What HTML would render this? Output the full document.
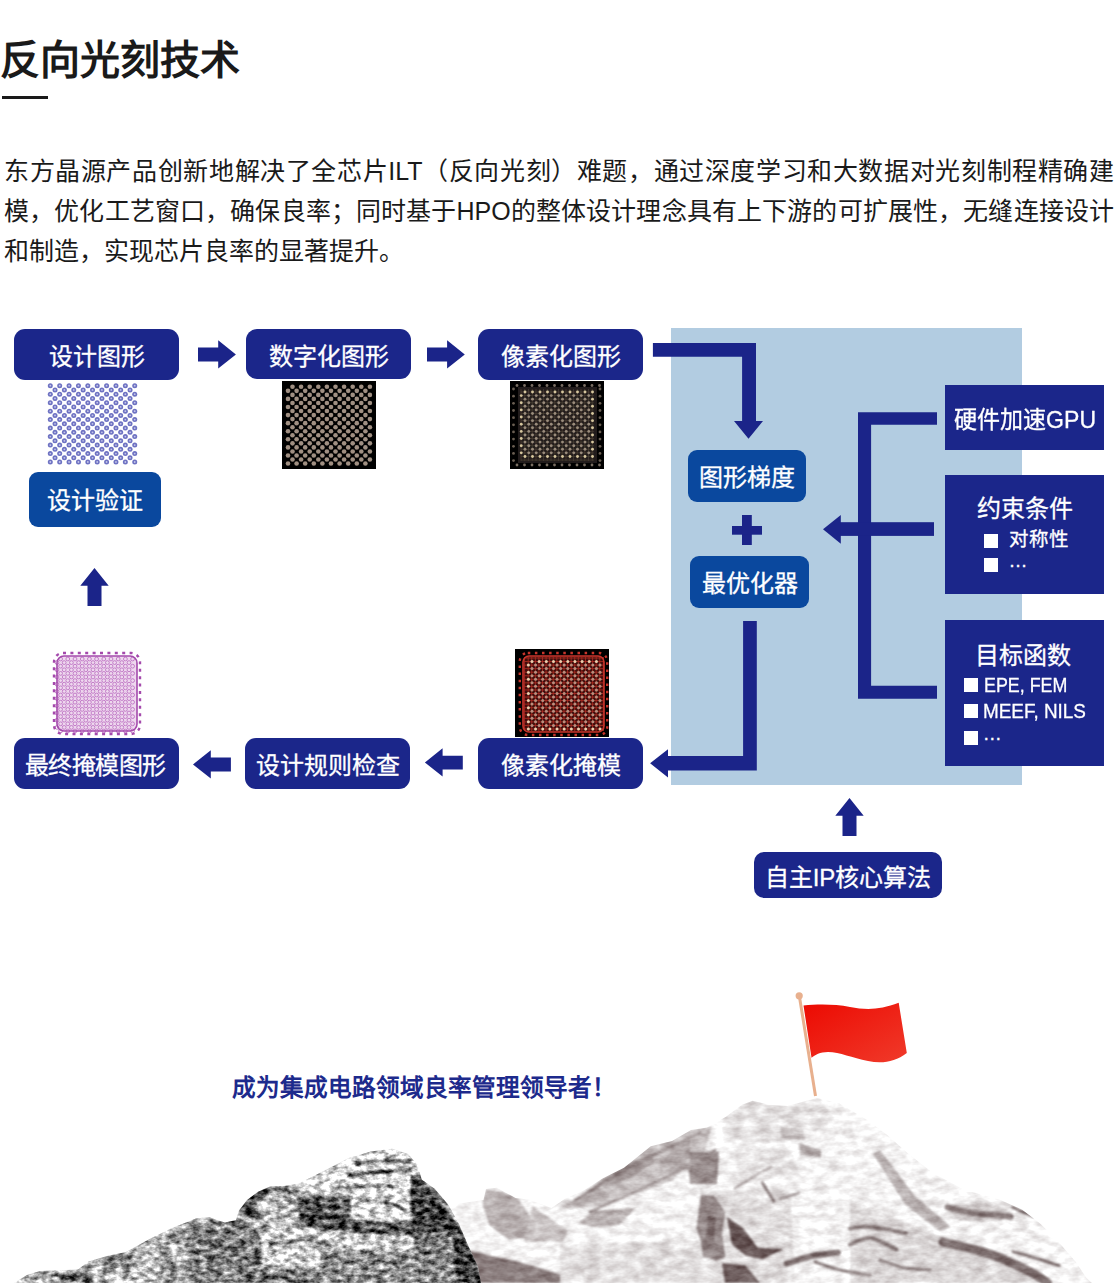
<!DOCTYPE html>
<html lang="zh-CN"><head><meta charset="utf-8">
<style>
html,body{margin:0;padding:0;background:#fff;}
body{width:1118px;height:1283px;position:relative;overflow:hidden;font-family:"Liberation Sans",sans-serif;}
.a{position:absolute;}
#title{left:0;top:29.5px;font-size:40px;font-weight:700;color:#1a1a1a;line-height:60px;white-space:nowrap;}
#uline{left:2px;top:96px;width:46px;height:3px;background:#1a1a1a;}
#para{left:4px;top:151px;width:1110px;font-size:25px;line-height:40px;color:#1a1a1a;text-align:justify;}
.box{position:absolute;color:#fff;display:flex;align-items:center;justify-content:center;font-size:24px;white-space:nowrap;-webkit-text-stroke:0.3px #fff;}
.dk{background:#1b268a;border-radius:11px;}
.md{background:#0a489e;border-radius:9px;padding-bottom:2px;box-sizing:border-box;}
.sq{background:#1b268a;}
.wt{color:#fff;white-space:nowrap;-webkit-text-stroke:0.3px #fff;}
.bl{width:14.3px;height:14px;background:#fff;}
.lat{transform-origin:0 0;}
#panel{left:671px;top:328px;width:351px;height:457px;background:#b2cce1;}
</style></head><body>
<div id="title" class="a">反向光刻技术</div>
<div id="uline" class="a"></div>
<div id="para" class="a">东方晶源产品创新地解决了全芯片ILT（反向光刻）难题，通过深度学习和大数据对光刻制程精确建模，优化工艺窗口，确保良率；同时基于HPO的整体设计理念具有上下游的可扩展性，无缝连接设计和制造，实现芯片良率的显著提升。</div>

<div id="panel" class="a"></div>

<svg class="a" style="left:0;top:0" width="1118" height="920" viewBox="0 0 1118 920">
<g fill="#1b2489">
<!-- top right arrows -->
<polygon points="198,347.4 218.2,347.4 218.2,340.2 235.9,354.4 218.2,368.6 218.2,361.4 198,361.4"/>
<polygon points="427,347.4 447.1,347.4 447.1,340.2 464.8,354.4 447.1,368.6 447.1,361.4 427,361.4"/>
<!-- bottom left arrows -->
<polygon points="230.9,757.4 210.8,757.4 210.8,750.2 193,764.4 210.8,778.6 210.8,771.4 230.9,771.4"/>
<polygon points="462.8,755.7 442.6,755.7 442.6,748.2 424.9,762.6 442.6,776.6 442.6,769.4 462.8,769.4"/>
<!-- up arrows -->
<polygon points="87.5,605.9 87.5,585.8 80.3,585.8 94.5,567.9 108.7,585.8 101.5,585.8 101.5,605.9"/>
<polygon points="842.5,835.9 842.5,815.8 835.3,815.8 849.5,797.9 863.7,815.8 856.5,815.8 856.5,835.9"/>
<!-- connector top -->
<polygon points="652.9,343 756,343 756,421 763,421 748.5,438.7 734,421 742.1,421 742.1,356.7 652.9,356.7"/>
<!-- connector bottom -->
<polygon points="743.1,620.9 756.8,620.9 756.8,770.6 668,770.6 668,777.6 650.1,763.3 668,749.3 668,755.9 743.1,755.9"/>
<!-- plus -->
<rect x="742" y="515" width="9.8" height="30"/>
<rect x="732" y="526" width="30" height="8.7"/>
<!-- bracket -->
<polygon points="858,412.3 937,412.3 937,424.7 871.1,424.7 871.1,685.8 937,685.8 937,698.7 858,698.7"/>
<rect x="840" y="522.2" width="94" height="13.7"/>
<polygon points="823,529.3 840.8,515 840.8,543.7"/>
</g>
</svg>
<!--IMAGES-->
<svg class="a" style="left:0;top:0" width="1118" height="920" viewBox="0 0 1118 920">
<defs><filter id="bl5" x="-10%" y="-10%" width="120%" height="120%"><feGaussianBlur stdDeviation="0.45"/></filter><filter id="bl7" x="-10%" y="-10%" width="120%" height="120%"><feGaussianBlur stdDeviation="0.6"/></filter></defs>
<g filter="url(#bl5)">
<circle cx="50.3" cy="385.7" r="2.5" fill="#6e72c2"/><circle cx="50.3" cy="385.7" r="0.9" fill="#c4c6ea"/>
<circle cx="59.68" cy="385.7" r="2.5" fill="#6e72c2"/><circle cx="59.68" cy="385.7" r="0.9" fill="#c4c6ea"/>
<circle cx="69.06" cy="385.7" r="2.5" fill="#6e72c2"/><circle cx="69.06" cy="385.7" r="0.9" fill="#c4c6ea"/>
<circle cx="78.44" cy="385.7" r="2.5" fill="#6e72c2"/><circle cx="78.44" cy="385.7" r="0.9" fill="#c4c6ea"/>
<circle cx="87.82" cy="385.7" r="2.5" fill="#6e72c2"/><circle cx="87.82" cy="385.7" r="0.9" fill="#c4c6ea"/>
<circle cx="97.2" cy="385.7" r="2.5" fill="#6e72c2"/><circle cx="97.2" cy="385.7" r="0.9" fill="#c4c6ea"/>
<circle cx="106.58" cy="385.7" r="2.5" fill="#6e72c2"/><circle cx="106.58" cy="385.7" r="0.9" fill="#c4c6ea"/>
<circle cx="115.96" cy="385.7" r="2.5" fill="#6e72c2"/><circle cx="115.96" cy="385.7" r="0.9" fill="#c4c6ea"/>
<circle cx="125.34" cy="385.7" r="2.5" fill="#6e72c2"/><circle cx="125.34" cy="385.7" r="0.9" fill="#c4c6ea"/>
<circle cx="134.72" cy="385.7" r="2.5" fill="#6e72c2"/><circle cx="134.72" cy="385.7" r="0.9" fill="#c4c6ea"/>
<circle cx="55" cy="389.94" r="2.5" fill="#6e72c2"/><circle cx="55" cy="389.94" r="0.9" fill="#c4c6ea"/>
<circle cx="64.38" cy="389.94" r="2.5" fill="#6e72c2"/><circle cx="64.38" cy="389.94" r="0.9" fill="#c4c6ea"/>
<circle cx="73.76" cy="389.94" r="2.5" fill="#6e72c2"/><circle cx="73.76" cy="389.94" r="0.9" fill="#c4c6ea"/>
<circle cx="83.14" cy="389.94" r="2.5" fill="#6e72c2"/><circle cx="83.14" cy="389.94" r="0.9" fill="#c4c6ea"/>
<circle cx="92.52" cy="389.94" r="2.5" fill="#6e72c2"/><circle cx="92.52" cy="389.94" r="0.9" fill="#c4c6ea"/>
<circle cx="101.9" cy="389.94" r="2.5" fill="#6e72c2"/><circle cx="101.9" cy="389.94" r="0.9" fill="#c4c6ea"/>
<circle cx="111.28" cy="389.94" r="2.5" fill="#6e72c2"/><circle cx="111.28" cy="389.94" r="0.9" fill="#c4c6ea"/>
<circle cx="120.66" cy="389.94" r="2.5" fill="#6e72c2"/><circle cx="120.66" cy="389.94" r="0.9" fill="#c4c6ea"/>
<circle cx="130.04" cy="389.94" r="2.5" fill="#6e72c2"/><circle cx="130.04" cy="389.94" r="0.9" fill="#c4c6ea"/>
<circle cx="50.3" cy="394.18" r="2.5" fill="#6e72c2"/><circle cx="50.3" cy="394.18" r="0.9" fill="#c4c6ea"/>
<circle cx="59.68" cy="394.18" r="2.5" fill="#6e72c2"/><circle cx="59.68" cy="394.18" r="0.9" fill="#c4c6ea"/>
<circle cx="69.06" cy="394.18" r="2.5" fill="#6e72c2"/><circle cx="69.06" cy="394.18" r="0.9" fill="#c4c6ea"/>
<circle cx="78.44" cy="394.18" r="2.5" fill="#6e72c2"/><circle cx="78.44" cy="394.18" r="0.9" fill="#c4c6ea"/>
<circle cx="87.82" cy="394.18" r="2.5" fill="#6e72c2"/><circle cx="87.82" cy="394.18" r="0.9" fill="#c4c6ea"/>
<circle cx="97.2" cy="394.18" r="2.5" fill="#6e72c2"/><circle cx="97.2" cy="394.18" r="0.9" fill="#c4c6ea"/>
<circle cx="106.58" cy="394.18" r="2.5" fill="#6e72c2"/><circle cx="106.58" cy="394.18" r="0.9" fill="#c4c6ea"/>
<circle cx="115.96" cy="394.18" r="2.5" fill="#6e72c2"/><circle cx="115.96" cy="394.18" r="0.9" fill="#c4c6ea"/>
<circle cx="125.34" cy="394.18" r="2.5" fill="#6e72c2"/><circle cx="125.34" cy="394.18" r="0.9" fill="#c4c6ea"/>
<circle cx="134.72" cy="394.18" r="2.5" fill="#6e72c2"/><circle cx="134.72" cy="394.18" r="0.9" fill="#c4c6ea"/>
<circle cx="55" cy="398.42" r="2.5" fill="#6e72c2"/><circle cx="55" cy="398.42" r="0.9" fill="#c4c6ea"/>
<circle cx="64.38" cy="398.42" r="2.5" fill="#6e72c2"/><circle cx="64.38" cy="398.42" r="0.9" fill="#c4c6ea"/>
<circle cx="73.76" cy="398.42" r="2.5" fill="#6e72c2"/><circle cx="73.76" cy="398.42" r="0.9" fill="#c4c6ea"/>
<circle cx="83.14" cy="398.42" r="2.5" fill="#6e72c2"/><circle cx="83.14" cy="398.42" r="0.9" fill="#c4c6ea"/>
<circle cx="92.52" cy="398.42" r="2.5" fill="#6e72c2"/><circle cx="92.52" cy="398.42" r="0.9" fill="#c4c6ea"/>
<circle cx="101.9" cy="398.42" r="2.5" fill="#6e72c2"/><circle cx="101.9" cy="398.42" r="0.9" fill="#c4c6ea"/>
<circle cx="111.28" cy="398.42" r="2.5" fill="#6e72c2"/><circle cx="111.28" cy="398.42" r="0.9" fill="#c4c6ea"/>
<circle cx="120.66" cy="398.42" r="2.5" fill="#6e72c2"/><circle cx="120.66" cy="398.42" r="0.9" fill="#c4c6ea"/>
<circle cx="130.04" cy="398.42" r="2.5" fill="#6e72c2"/><circle cx="130.04" cy="398.42" r="0.9" fill="#c4c6ea"/>
<circle cx="50.3" cy="402.66" r="2.5" fill="#6e72c2"/><circle cx="50.3" cy="402.66" r="0.9" fill="#c4c6ea"/>
<circle cx="59.68" cy="402.66" r="2.5" fill="#6e72c2"/><circle cx="59.68" cy="402.66" r="0.9" fill="#c4c6ea"/>
<circle cx="69.06" cy="402.66" r="2.5" fill="#6e72c2"/><circle cx="69.06" cy="402.66" r="0.9" fill="#c4c6ea"/>
<circle cx="78.44" cy="402.66" r="2.5" fill="#6e72c2"/><circle cx="78.44" cy="402.66" r="0.9" fill="#c4c6ea"/>
<circle cx="87.82" cy="402.66" r="2.5" fill="#6e72c2"/><circle cx="87.82" cy="402.66" r="0.9" fill="#c4c6ea"/>
<circle cx="97.2" cy="402.66" r="2.5" fill="#6e72c2"/><circle cx="97.2" cy="402.66" r="0.9" fill="#c4c6ea"/>
<circle cx="106.58" cy="402.66" r="2.5" fill="#6e72c2"/><circle cx="106.58" cy="402.66" r="0.9" fill="#c4c6ea"/>
<circle cx="115.96" cy="402.66" r="2.5" fill="#6e72c2"/><circle cx="115.96" cy="402.66" r="0.9" fill="#c4c6ea"/>
<circle cx="125.34" cy="402.66" r="2.5" fill="#6e72c2"/><circle cx="125.34" cy="402.66" r="0.9" fill="#c4c6ea"/>
<circle cx="134.72" cy="402.66" r="2.5" fill="#6e72c2"/><circle cx="134.72" cy="402.66" r="0.9" fill="#c4c6ea"/>
<circle cx="55" cy="406.9" r="2.5" fill="#6e72c2"/><circle cx="55" cy="406.9" r="0.9" fill="#c4c6ea"/>
<circle cx="64.38" cy="406.9" r="2.5" fill="#6e72c2"/><circle cx="64.38" cy="406.9" r="0.9" fill="#c4c6ea"/>
<circle cx="73.76" cy="406.9" r="2.5" fill="#6e72c2"/><circle cx="73.76" cy="406.9" r="0.9" fill="#c4c6ea"/>
<circle cx="83.14" cy="406.9" r="2.5" fill="#6e72c2"/><circle cx="83.14" cy="406.9" r="0.9" fill="#c4c6ea"/>
<circle cx="92.52" cy="406.9" r="2.5" fill="#6e72c2"/><circle cx="92.52" cy="406.9" r="0.9" fill="#c4c6ea"/>
<circle cx="101.9" cy="406.9" r="2.5" fill="#6e72c2"/><circle cx="101.9" cy="406.9" r="0.9" fill="#c4c6ea"/>
<circle cx="111.28" cy="406.9" r="2.5" fill="#6e72c2"/><circle cx="111.28" cy="406.9" r="0.9" fill="#c4c6ea"/>
<circle cx="120.66" cy="406.9" r="2.5" fill="#6e72c2"/><circle cx="120.66" cy="406.9" r="0.9" fill="#c4c6ea"/>
<circle cx="130.04" cy="406.9" r="2.5" fill="#6e72c2"/><circle cx="130.04" cy="406.9" r="0.9" fill="#c4c6ea"/>
<circle cx="50.3" cy="411.14" r="2.5" fill="#6e72c2"/><circle cx="50.3" cy="411.14" r="0.9" fill="#c4c6ea"/>
<circle cx="59.68" cy="411.14" r="2.5" fill="#6e72c2"/><circle cx="59.68" cy="411.14" r="0.9" fill="#c4c6ea"/>
<circle cx="69.06" cy="411.14" r="2.5" fill="#6e72c2"/><circle cx="69.06" cy="411.14" r="0.9" fill="#c4c6ea"/>
<circle cx="78.44" cy="411.14" r="2.5" fill="#6e72c2"/><circle cx="78.44" cy="411.14" r="0.9" fill="#c4c6ea"/>
<circle cx="87.82" cy="411.14" r="2.5" fill="#6e72c2"/><circle cx="87.82" cy="411.14" r="0.9" fill="#c4c6ea"/>
<circle cx="97.2" cy="411.14" r="2.5" fill="#6e72c2"/><circle cx="97.2" cy="411.14" r="0.9" fill="#c4c6ea"/>
<circle cx="106.58" cy="411.14" r="2.5" fill="#6e72c2"/><circle cx="106.58" cy="411.14" r="0.9" fill="#c4c6ea"/>
<circle cx="115.96" cy="411.14" r="2.5" fill="#6e72c2"/><circle cx="115.96" cy="411.14" r="0.9" fill="#c4c6ea"/>
<circle cx="125.34" cy="411.14" r="2.5" fill="#6e72c2"/><circle cx="125.34" cy="411.14" r="0.9" fill="#c4c6ea"/>
<circle cx="134.72" cy="411.14" r="2.5" fill="#6e72c2"/><circle cx="134.72" cy="411.14" r="0.9" fill="#c4c6ea"/>
<circle cx="55" cy="415.38" r="2.5" fill="#6e72c2"/><circle cx="55" cy="415.38" r="0.9" fill="#c4c6ea"/>
<circle cx="64.38" cy="415.38" r="2.5" fill="#6e72c2"/><circle cx="64.38" cy="415.38" r="0.9" fill="#c4c6ea"/>
<circle cx="73.76" cy="415.38" r="2.5" fill="#6e72c2"/><circle cx="73.76" cy="415.38" r="0.9" fill="#c4c6ea"/>
<circle cx="83.14" cy="415.38" r="2.5" fill="#6e72c2"/><circle cx="83.14" cy="415.38" r="0.9" fill="#c4c6ea"/>
<circle cx="92.52" cy="415.38" r="2.5" fill="#6e72c2"/><circle cx="92.52" cy="415.38" r="0.9" fill="#c4c6ea"/>
<circle cx="101.9" cy="415.38" r="2.5" fill="#6e72c2"/><circle cx="101.9" cy="415.38" r="0.9" fill="#c4c6ea"/>
<circle cx="111.28" cy="415.38" r="2.5" fill="#6e72c2"/><circle cx="111.28" cy="415.38" r="0.9" fill="#c4c6ea"/>
<circle cx="120.66" cy="415.38" r="2.5" fill="#6e72c2"/><circle cx="120.66" cy="415.38" r="0.9" fill="#c4c6ea"/>
<circle cx="130.04" cy="415.38" r="2.5" fill="#6e72c2"/><circle cx="130.04" cy="415.38" r="0.9" fill="#c4c6ea"/>
<circle cx="50.3" cy="419.62" r="2.5" fill="#6e72c2"/><circle cx="50.3" cy="419.62" r="0.9" fill="#c4c6ea"/>
<circle cx="59.68" cy="419.62" r="2.5" fill="#6e72c2"/><circle cx="59.68" cy="419.62" r="0.9" fill="#c4c6ea"/>
<circle cx="69.06" cy="419.62" r="2.5" fill="#6e72c2"/><circle cx="69.06" cy="419.62" r="0.9" fill="#c4c6ea"/>
<circle cx="78.44" cy="419.62" r="2.5" fill="#6e72c2"/><circle cx="78.44" cy="419.62" r="0.9" fill="#c4c6ea"/>
<circle cx="87.82" cy="419.62" r="2.5" fill="#6e72c2"/><circle cx="87.82" cy="419.62" r="0.9" fill="#c4c6ea"/>
<circle cx="97.2" cy="419.62" r="2.5" fill="#6e72c2"/><circle cx="97.2" cy="419.62" r="0.9" fill="#c4c6ea"/>
<circle cx="106.58" cy="419.62" r="2.5" fill="#6e72c2"/><circle cx="106.58" cy="419.62" r="0.9" fill="#c4c6ea"/>
<circle cx="115.96" cy="419.62" r="2.5" fill="#6e72c2"/><circle cx="115.96" cy="419.62" r="0.9" fill="#c4c6ea"/>
<circle cx="125.34" cy="419.62" r="2.5" fill="#6e72c2"/><circle cx="125.34" cy="419.62" r="0.9" fill="#c4c6ea"/>
<circle cx="134.72" cy="419.62" r="2.5" fill="#6e72c2"/><circle cx="134.72" cy="419.62" r="0.9" fill="#c4c6ea"/>
<circle cx="55" cy="423.86" r="2.5" fill="#6e72c2"/><circle cx="55" cy="423.86" r="0.9" fill="#c4c6ea"/>
<circle cx="64.38" cy="423.86" r="2.5" fill="#6e72c2"/><circle cx="64.38" cy="423.86" r="0.9" fill="#c4c6ea"/>
<circle cx="73.76" cy="423.86" r="2.5" fill="#6e72c2"/><circle cx="73.76" cy="423.86" r="0.9" fill="#c4c6ea"/>
<circle cx="83.14" cy="423.86" r="2.5" fill="#6e72c2"/><circle cx="83.14" cy="423.86" r="0.9" fill="#c4c6ea"/>
<circle cx="92.52" cy="423.86" r="2.5" fill="#6e72c2"/><circle cx="92.52" cy="423.86" r="0.9" fill="#c4c6ea"/>
<circle cx="101.9" cy="423.86" r="2.5" fill="#6e72c2"/><circle cx="101.9" cy="423.86" r="0.9" fill="#c4c6ea"/>
<circle cx="111.28" cy="423.86" r="2.5" fill="#6e72c2"/><circle cx="111.28" cy="423.86" r="0.9" fill="#c4c6ea"/>
<circle cx="120.66" cy="423.86" r="2.5" fill="#6e72c2"/><circle cx="120.66" cy="423.86" r="0.9" fill="#c4c6ea"/>
<circle cx="130.04" cy="423.86" r="2.5" fill="#6e72c2"/><circle cx="130.04" cy="423.86" r="0.9" fill="#c4c6ea"/>
<circle cx="50.3" cy="428.1" r="2.5" fill="#6e72c2"/><circle cx="50.3" cy="428.1" r="0.9" fill="#c4c6ea"/>
<circle cx="59.68" cy="428.1" r="2.5" fill="#6e72c2"/><circle cx="59.68" cy="428.1" r="0.9" fill="#c4c6ea"/>
<circle cx="69.06" cy="428.1" r="2.5" fill="#6e72c2"/><circle cx="69.06" cy="428.1" r="0.9" fill="#c4c6ea"/>
<circle cx="78.44" cy="428.1" r="2.5" fill="#6e72c2"/><circle cx="78.44" cy="428.1" r="0.9" fill="#c4c6ea"/>
<circle cx="87.82" cy="428.1" r="2.5" fill="#6e72c2"/><circle cx="87.82" cy="428.1" r="0.9" fill="#c4c6ea"/>
<circle cx="97.2" cy="428.1" r="2.5" fill="#6e72c2"/><circle cx="97.2" cy="428.1" r="0.9" fill="#c4c6ea"/>
<circle cx="106.58" cy="428.1" r="2.5" fill="#6e72c2"/><circle cx="106.58" cy="428.1" r="0.9" fill="#c4c6ea"/>
<circle cx="115.96" cy="428.1" r="2.5" fill="#6e72c2"/><circle cx="115.96" cy="428.1" r="0.9" fill="#c4c6ea"/>
<circle cx="125.34" cy="428.1" r="2.5" fill="#6e72c2"/><circle cx="125.34" cy="428.1" r="0.9" fill="#c4c6ea"/>
<circle cx="134.72" cy="428.1" r="2.5" fill="#6e72c2"/><circle cx="134.72" cy="428.1" r="0.9" fill="#c4c6ea"/>
<circle cx="55" cy="432.34" r="2.5" fill="#6e72c2"/><circle cx="55" cy="432.34" r="0.9" fill="#c4c6ea"/>
<circle cx="64.38" cy="432.34" r="2.5" fill="#6e72c2"/><circle cx="64.38" cy="432.34" r="0.9" fill="#c4c6ea"/>
<circle cx="73.76" cy="432.34" r="2.5" fill="#6e72c2"/><circle cx="73.76" cy="432.34" r="0.9" fill="#c4c6ea"/>
<circle cx="83.14" cy="432.34" r="2.5" fill="#6e72c2"/><circle cx="83.14" cy="432.34" r="0.9" fill="#c4c6ea"/>
<circle cx="92.52" cy="432.34" r="2.5" fill="#6e72c2"/><circle cx="92.52" cy="432.34" r="0.9" fill="#c4c6ea"/>
<circle cx="101.9" cy="432.34" r="2.5" fill="#6e72c2"/><circle cx="101.9" cy="432.34" r="0.9" fill="#c4c6ea"/>
<circle cx="111.28" cy="432.34" r="2.5" fill="#6e72c2"/><circle cx="111.28" cy="432.34" r="0.9" fill="#c4c6ea"/>
<circle cx="120.66" cy="432.34" r="2.5" fill="#6e72c2"/><circle cx="120.66" cy="432.34" r="0.9" fill="#c4c6ea"/>
<circle cx="130.04" cy="432.34" r="2.5" fill="#6e72c2"/><circle cx="130.04" cy="432.34" r="0.9" fill="#c4c6ea"/>
<circle cx="50.3" cy="436.58" r="2.5" fill="#6e72c2"/><circle cx="50.3" cy="436.58" r="0.9" fill="#c4c6ea"/>
<circle cx="59.68" cy="436.58" r="2.5" fill="#6e72c2"/><circle cx="59.68" cy="436.58" r="0.9" fill="#c4c6ea"/>
<circle cx="69.06" cy="436.58" r="2.5" fill="#6e72c2"/><circle cx="69.06" cy="436.58" r="0.9" fill="#c4c6ea"/>
<circle cx="78.44" cy="436.58" r="2.5" fill="#6e72c2"/><circle cx="78.44" cy="436.58" r="0.9" fill="#c4c6ea"/>
<circle cx="87.82" cy="436.58" r="2.5" fill="#6e72c2"/><circle cx="87.82" cy="436.58" r="0.9" fill="#c4c6ea"/>
<circle cx="97.2" cy="436.58" r="2.5" fill="#6e72c2"/><circle cx="97.2" cy="436.58" r="0.9" fill="#c4c6ea"/>
<circle cx="106.58" cy="436.58" r="2.5" fill="#6e72c2"/><circle cx="106.58" cy="436.58" r="0.9" fill="#c4c6ea"/>
<circle cx="115.96" cy="436.58" r="2.5" fill="#6e72c2"/><circle cx="115.96" cy="436.58" r="0.9" fill="#c4c6ea"/>
<circle cx="125.34" cy="436.58" r="2.5" fill="#6e72c2"/><circle cx="125.34" cy="436.58" r="0.9" fill="#c4c6ea"/>
<circle cx="134.72" cy="436.58" r="2.5" fill="#6e72c2"/><circle cx="134.72" cy="436.58" r="0.9" fill="#c4c6ea"/>
<circle cx="55" cy="440.82" r="2.5" fill="#6e72c2"/><circle cx="55" cy="440.82" r="0.9" fill="#c4c6ea"/>
<circle cx="64.38" cy="440.82" r="2.5" fill="#6e72c2"/><circle cx="64.38" cy="440.82" r="0.9" fill="#c4c6ea"/>
<circle cx="73.76" cy="440.82" r="2.5" fill="#6e72c2"/><circle cx="73.76" cy="440.82" r="0.9" fill="#c4c6ea"/>
<circle cx="83.14" cy="440.82" r="2.5" fill="#6e72c2"/><circle cx="83.14" cy="440.82" r="0.9" fill="#c4c6ea"/>
<circle cx="92.52" cy="440.82" r="2.5" fill="#6e72c2"/><circle cx="92.52" cy="440.82" r="0.9" fill="#c4c6ea"/>
<circle cx="101.9" cy="440.82" r="2.5" fill="#6e72c2"/><circle cx="101.9" cy="440.82" r="0.9" fill="#c4c6ea"/>
<circle cx="111.28" cy="440.82" r="2.5" fill="#6e72c2"/><circle cx="111.28" cy="440.82" r="0.9" fill="#c4c6ea"/>
<circle cx="120.66" cy="440.82" r="2.5" fill="#6e72c2"/><circle cx="120.66" cy="440.82" r="0.9" fill="#c4c6ea"/>
<circle cx="130.04" cy="440.82" r="2.5" fill="#6e72c2"/><circle cx="130.04" cy="440.82" r="0.9" fill="#c4c6ea"/>
<circle cx="50.3" cy="445.06" r="2.5" fill="#6e72c2"/><circle cx="50.3" cy="445.06" r="0.9" fill="#c4c6ea"/>
<circle cx="59.68" cy="445.06" r="2.5" fill="#6e72c2"/><circle cx="59.68" cy="445.06" r="0.9" fill="#c4c6ea"/>
<circle cx="69.06" cy="445.06" r="2.5" fill="#6e72c2"/><circle cx="69.06" cy="445.06" r="0.9" fill="#c4c6ea"/>
<circle cx="78.44" cy="445.06" r="2.5" fill="#6e72c2"/><circle cx="78.44" cy="445.06" r="0.9" fill="#c4c6ea"/>
<circle cx="87.82" cy="445.06" r="2.5" fill="#6e72c2"/><circle cx="87.82" cy="445.06" r="0.9" fill="#c4c6ea"/>
<circle cx="97.2" cy="445.06" r="2.5" fill="#6e72c2"/><circle cx="97.2" cy="445.06" r="0.9" fill="#c4c6ea"/>
<circle cx="106.58" cy="445.06" r="2.5" fill="#6e72c2"/><circle cx="106.58" cy="445.06" r="0.9" fill="#c4c6ea"/>
<circle cx="115.96" cy="445.06" r="2.5" fill="#6e72c2"/><circle cx="115.96" cy="445.06" r="0.9" fill="#c4c6ea"/>
<circle cx="125.34" cy="445.06" r="2.5" fill="#6e72c2"/><circle cx="125.34" cy="445.06" r="0.9" fill="#c4c6ea"/>
<circle cx="134.72" cy="445.06" r="2.5" fill="#6e72c2"/><circle cx="134.72" cy="445.06" r="0.9" fill="#c4c6ea"/>
<circle cx="55" cy="449.3" r="2.5" fill="#6e72c2"/><circle cx="55" cy="449.3" r="0.9" fill="#c4c6ea"/>
<circle cx="64.38" cy="449.3" r="2.5" fill="#6e72c2"/><circle cx="64.38" cy="449.3" r="0.9" fill="#c4c6ea"/>
<circle cx="73.76" cy="449.3" r="2.5" fill="#6e72c2"/><circle cx="73.76" cy="449.3" r="0.9" fill="#c4c6ea"/>
<circle cx="83.14" cy="449.3" r="2.5" fill="#6e72c2"/><circle cx="83.14" cy="449.3" r="0.9" fill="#c4c6ea"/>
<circle cx="92.52" cy="449.3" r="2.5" fill="#6e72c2"/><circle cx="92.52" cy="449.3" r="0.9" fill="#c4c6ea"/>
<circle cx="101.9" cy="449.3" r="2.5" fill="#6e72c2"/><circle cx="101.9" cy="449.3" r="0.9" fill="#c4c6ea"/>
<circle cx="111.28" cy="449.3" r="2.5" fill="#6e72c2"/><circle cx="111.28" cy="449.3" r="0.9" fill="#c4c6ea"/>
<circle cx="120.66" cy="449.3" r="2.5" fill="#6e72c2"/><circle cx="120.66" cy="449.3" r="0.9" fill="#c4c6ea"/>
<circle cx="130.04" cy="449.3" r="2.5" fill="#6e72c2"/><circle cx="130.04" cy="449.3" r="0.9" fill="#c4c6ea"/>
<circle cx="50.3" cy="453.54" r="2.5" fill="#6e72c2"/><circle cx="50.3" cy="453.54" r="0.9" fill="#c4c6ea"/>
<circle cx="59.68" cy="453.54" r="2.5" fill="#6e72c2"/><circle cx="59.68" cy="453.54" r="0.9" fill="#c4c6ea"/>
<circle cx="69.06" cy="453.54" r="2.5" fill="#6e72c2"/><circle cx="69.06" cy="453.54" r="0.9" fill="#c4c6ea"/>
<circle cx="78.44" cy="453.54" r="2.5" fill="#6e72c2"/><circle cx="78.44" cy="453.54" r="0.9" fill="#c4c6ea"/>
<circle cx="87.82" cy="453.54" r="2.5" fill="#6e72c2"/><circle cx="87.82" cy="453.54" r="0.9" fill="#c4c6ea"/>
<circle cx="97.2" cy="453.54" r="2.5" fill="#6e72c2"/><circle cx="97.2" cy="453.54" r="0.9" fill="#c4c6ea"/>
<circle cx="106.58" cy="453.54" r="2.5" fill="#6e72c2"/><circle cx="106.58" cy="453.54" r="0.9" fill="#c4c6ea"/>
<circle cx="115.96" cy="453.54" r="2.5" fill="#6e72c2"/><circle cx="115.96" cy="453.54" r="0.9" fill="#c4c6ea"/>
<circle cx="125.34" cy="453.54" r="2.5" fill="#6e72c2"/><circle cx="125.34" cy="453.54" r="0.9" fill="#c4c6ea"/>
<circle cx="134.72" cy="453.54" r="2.5" fill="#6e72c2"/><circle cx="134.72" cy="453.54" r="0.9" fill="#c4c6ea"/>
<circle cx="55" cy="457.78" r="2.5" fill="#6e72c2"/><circle cx="55" cy="457.78" r="0.9" fill="#c4c6ea"/>
<circle cx="64.38" cy="457.78" r="2.5" fill="#6e72c2"/><circle cx="64.38" cy="457.78" r="0.9" fill="#c4c6ea"/>
<circle cx="73.76" cy="457.78" r="2.5" fill="#6e72c2"/><circle cx="73.76" cy="457.78" r="0.9" fill="#c4c6ea"/>
<circle cx="83.14" cy="457.78" r="2.5" fill="#6e72c2"/><circle cx="83.14" cy="457.78" r="0.9" fill="#c4c6ea"/>
<circle cx="92.52" cy="457.78" r="2.5" fill="#6e72c2"/><circle cx="92.52" cy="457.78" r="0.9" fill="#c4c6ea"/>
<circle cx="101.9" cy="457.78" r="2.5" fill="#6e72c2"/><circle cx="101.9" cy="457.78" r="0.9" fill="#c4c6ea"/>
<circle cx="111.28" cy="457.78" r="2.5" fill="#6e72c2"/><circle cx="111.28" cy="457.78" r="0.9" fill="#c4c6ea"/>
<circle cx="120.66" cy="457.78" r="2.5" fill="#6e72c2"/><circle cx="120.66" cy="457.78" r="0.9" fill="#c4c6ea"/>
<circle cx="130.04" cy="457.78" r="2.5" fill="#6e72c2"/><circle cx="130.04" cy="457.78" r="0.9" fill="#c4c6ea"/>
<circle cx="50.3" cy="462.02" r="2.5" fill="#6e72c2"/><circle cx="50.3" cy="462.02" r="0.9" fill="#c4c6ea"/>
<circle cx="59.68" cy="462.02" r="2.5" fill="#6e72c2"/><circle cx="59.68" cy="462.02" r="0.9" fill="#c4c6ea"/>
<circle cx="69.06" cy="462.02" r="2.5" fill="#6e72c2"/><circle cx="69.06" cy="462.02" r="0.9" fill="#c4c6ea"/>
<circle cx="78.44" cy="462.02" r="2.5" fill="#6e72c2"/><circle cx="78.44" cy="462.02" r="0.9" fill="#c4c6ea"/>
<circle cx="87.82" cy="462.02" r="2.5" fill="#6e72c2"/><circle cx="87.82" cy="462.02" r="0.9" fill="#c4c6ea"/>
<circle cx="97.2" cy="462.02" r="2.5" fill="#6e72c2"/><circle cx="97.2" cy="462.02" r="0.9" fill="#c4c6ea"/>
<circle cx="106.58" cy="462.02" r="2.5" fill="#6e72c2"/><circle cx="106.58" cy="462.02" r="0.9" fill="#c4c6ea"/>
<circle cx="115.96" cy="462.02" r="2.5" fill="#6e72c2"/><circle cx="115.96" cy="462.02" r="0.9" fill="#c4c6ea"/>
<circle cx="125.34" cy="462.02" r="2.5" fill="#6e72c2"/><circle cx="125.34" cy="462.02" r="0.9" fill="#c4c6ea"/>
<circle cx="134.72" cy="462.02" r="2.5" fill="#6e72c2"/><circle cx="134.72" cy="462.02" r="0.9" fill="#c4c6ea"/>
</g>
<rect x="282" y="381" width="94" height="88" fill="#000"/><g filter="url(#bl7)">
<circle cx="292.5" cy="386.8" r="2.3" fill="#a08f82"/>
<circle cx="301.1" cy="386.8" r="2.3" fill="#a08f82"/>
<circle cx="309.7" cy="386.8" r="2.3" fill="#a08f82"/>
<circle cx="318.3" cy="386.8" r="2.3" fill="#a08f82"/>
<circle cx="326.9" cy="386.8" r="2.3" fill="#a08f82"/>
<circle cx="335.5" cy="386.8" r="2.3" fill="#a08f82"/>
<circle cx="344.1" cy="386.8" r="2.3" fill="#a08f82"/>
<circle cx="352.7" cy="386.8" r="2.3" fill="#a08f82"/>
<circle cx="361.3" cy="386.8" r="2.3" fill="#a08f82"/>
<circle cx="369.9" cy="386.8" r="2.3" fill="#a08f82"/>
<circle cx="288" cy="390.84" r="2.3" fill="#a08f82"/>
<circle cx="296.6" cy="390.84" r="2.3" fill="#a08f82"/>
<circle cx="305.2" cy="390.84" r="2.3" fill="#a08f82"/>
<circle cx="313.8" cy="390.84" r="2.3" fill="#a08f82"/>
<circle cx="322.4" cy="390.84" r="2.3" fill="#a08f82"/>
<circle cx="331" cy="390.84" r="2.3" fill="#a08f82"/>
<circle cx="339.6" cy="390.84" r="2.3" fill="#a08f82"/>
<circle cx="348.2" cy="390.84" r="2.3" fill="#a08f82"/>
<circle cx="356.8" cy="390.84" r="2.3" fill="#a08f82"/>
<circle cx="365.4" cy="390.84" r="2.3" fill="#a08f82"/>
<circle cx="292.5" cy="394.88" r="2.3" fill="#a08f82"/>
<circle cx="301.1" cy="394.88" r="2.3" fill="#a08f82"/>
<circle cx="309.7" cy="394.88" r="2.3" fill="#a08f82"/>
<circle cx="318.3" cy="394.88" r="2.3" fill="#a08f82"/>
<circle cx="326.9" cy="394.88" r="2.3" fill="#a08f82"/>
<circle cx="335.5" cy="394.88" r="2.3" fill="#a08f82"/>
<circle cx="344.1" cy="394.88" r="2.3" fill="#a08f82"/>
<circle cx="352.7" cy="394.88" r="2.3" fill="#a08f82"/>
<circle cx="361.3" cy="394.88" r="2.3" fill="#a08f82"/>
<circle cx="369.9" cy="394.88" r="2.3" fill="#a08f82"/>
<circle cx="288" cy="398.92" r="2.3" fill="#a08f82"/>
<circle cx="296.6" cy="398.92" r="2.3" fill="#a08f82"/>
<circle cx="305.2" cy="398.92" r="2.3" fill="#a08f82"/>
<circle cx="313.8" cy="398.92" r="2.3" fill="#a08f82"/>
<circle cx="322.4" cy="398.92" r="2.3" fill="#a08f82"/>
<circle cx="331" cy="398.92" r="2.3" fill="#a08f82"/>
<circle cx="339.6" cy="398.92" r="2.3" fill="#a08f82"/>
<circle cx="348.2" cy="398.92" r="2.3" fill="#a08f82"/>
<circle cx="356.8" cy="398.92" r="2.3" fill="#a08f82"/>
<circle cx="365.4" cy="398.92" r="2.3" fill="#a08f82"/>
<circle cx="292.5" cy="402.96" r="2.3" fill="#a08f82"/>
<circle cx="301.1" cy="402.96" r="2.3" fill="#a08f82"/>
<circle cx="309.7" cy="402.96" r="2.3" fill="#a08f82"/>
<circle cx="318.3" cy="402.96" r="2.3" fill="#a08f82"/>
<circle cx="326.9" cy="402.96" r="2.3" fill="#a08f82"/>
<circle cx="335.5" cy="402.96" r="2.3" fill="#a08f82"/>
<circle cx="344.1" cy="402.96" r="2.3" fill="#a08f82"/>
<circle cx="352.7" cy="402.96" r="2.3" fill="#a08f82"/>
<circle cx="361.3" cy="402.96" r="2.3" fill="#a08f82"/>
<circle cx="369.9" cy="402.96" r="2.3" fill="#a08f82"/>
<circle cx="288" cy="407" r="2.3" fill="#a08f82"/>
<circle cx="296.6" cy="407" r="2.3" fill="#a08f82"/>
<circle cx="305.2" cy="407" r="2.3" fill="#a08f82"/>
<circle cx="313.8" cy="407" r="2.3" fill="#a08f82"/>
<circle cx="322.4" cy="407" r="2.3" fill="#a08f82"/>
<circle cx="331" cy="407" r="2.3" fill="#a08f82"/>
<circle cx="339.6" cy="407" r="2.3" fill="#a08f82"/>
<circle cx="348.2" cy="407" r="2.3" fill="#a08f82"/>
<circle cx="356.8" cy="407" r="2.3" fill="#a08f82"/>
<circle cx="365.4" cy="407" r="2.3" fill="#a08f82"/>
<circle cx="292.5" cy="411.04" r="2.3" fill="#a08f82"/>
<circle cx="301.1" cy="411.04" r="2.3" fill="#a08f82"/>
<circle cx="309.7" cy="411.04" r="2.3" fill="#a08f82"/>
<circle cx="318.3" cy="411.04" r="2.3" fill="#a08f82"/>
<circle cx="326.9" cy="411.04" r="2.3" fill="#a08f82"/>
<circle cx="335.5" cy="411.04" r="2.3" fill="#a08f82"/>
<circle cx="344.1" cy="411.04" r="2.3" fill="#a08f82"/>
<circle cx="352.7" cy="411.04" r="2.3" fill="#a08f82"/>
<circle cx="361.3" cy="411.04" r="2.3" fill="#a08f82"/>
<circle cx="369.9" cy="411.04" r="2.3" fill="#a08f82"/>
<circle cx="288" cy="415.08" r="2.3" fill="#a08f82"/>
<circle cx="296.6" cy="415.08" r="2.3" fill="#a08f82"/>
<circle cx="305.2" cy="415.08" r="2.3" fill="#a08f82"/>
<circle cx="313.8" cy="415.08" r="2.3" fill="#a08f82"/>
<circle cx="322.4" cy="415.08" r="2.3" fill="#a08f82"/>
<circle cx="331" cy="415.08" r="2.3" fill="#a08f82"/>
<circle cx="339.6" cy="415.08" r="2.3" fill="#a08f82"/>
<circle cx="348.2" cy="415.08" r="2.3" fill="#a08f82"/>
<circle cx="356.8" cy="415.08" r="2.3" fill="#a08f82"/>
<circle cx="365.4" cy="415.08" r="2.3" fill="#a08f82"/>
<circle cx="292.5" cy="419.12" r="2.3" fill="#a08f82"/>
<circle cx="301.1" cy="419.12" r="2.3" fill="#a08f82"/>
<circle cx="309.7" cy="419.12" r="2.3" fill="#a08f82"/>
<circle cx="318.3" cy="419.12" r="2.3" fill="#a08f82"/>
<circle cx="326.9" cy="419.12" r="2.3" fill="#a08f82"/>
<circle cx="335.5" cy="419.12" r="2.3" fill="#a08f82"/>
<circle cx="344.1" cy="419.12" r="2.3" fill="#a08f82"/>
<circle cx="352.7" cy="419.12" r="2.3" fill="#a08f82"/>
<circle cx="361.3" cy="419.12" r="2.3" fill="#a08f82"/>
<circle cx="369.9" cy="419.12" r="2.3" fill="#a08f82"/>
<circle cx="288" cy="423.16" r="2.3" fill="#a08f82"/>
<circle cx="296.6" cy="423.16" r="2.3" fill="#a08f82"/>
<circle cx="305.2" cy="423.16" r="2.3" fill="#a08f82"/>
<circle cx="313.8" cy="423.16" r="2.3" fill="#a08f82"/>
<circle cx="322.4" cy="423.16" r="2.3" fill="#a08f82"/>
<circle cx="331" cy="423.16" r="2.3" fill="#a08f82"/>
<circle cx="339.6" cy="423.16" r="2.3" fill="#a08f82"/>
<circle cx="348.2" cy="423.16" r="2.3" fill="#a08f82"/>
<circle cx="356.8" cy="423.16" r="2.3" fill="#a08f82"/>
<circle cx="365.4" cy="423.16" r="2.3" fill="#a08f82"/>
<circle cx="292.5" cy="427.2" r="2.3" fill="#a08f82"/>
<circle cx="301.1" cy="427.2" r="2.3" fill="#a08f82"/>
<circle cx="309.7" cy="427.2" r="2.3" fill="#a08f82"/>
<circle cx="318.3" cy="427.2" r="2.3" fill="#a08f82"/>
<circle cx="326.9" cy="427.2" r="2.3" fill="#a08f82"/>
<circle cx="335.5" cy="427.2" r="2.3" fill="#a08f82"/>
<circle cx="344.1" cy="427.2" r="2.3" fill="#a08f82"/>
<circle cx="352.7" cy="427.2" r="2.3" fill="#a08f82"/>
<circle cx="361.3" cy="427.2" r="2.3" fill="#a08f82"/>
<circle cx="369.9" cy="427.2" r="2.3" fill="#a08f82"/>
<circle cx="288" cy="431.24" r="2.3" fill="#a08f82"/>
<circle cx="296.6" cy="431.24" r="2.3" fill="#a08f82"/>
<circle cx="305.2" cy="431.24" r="2.3" fill="#a08f82"/>
<circle cx="313.8" cy="431.24" r="2.3" fill="#a08f82"/>
<circle cx="322.4" cy="431.24" r="2.3" fill="#a08f82"/>
<circle cx="331" cy="431.24" r="2.3" fill="#a08f82"/>
<circle cx="339.6" cy="431.24" r="2.3" fill="#a08f82"/>
<circle cx="348.2" cy="431.24" r="2.3" fill="#a08f82"/>
<circle cx="356.8" cy="431.24" r="2.3" fill="#a08f82"/>
<circle cx="365.4" cy="431.24" r="2.3" fill="#a08f82"/>
<circle cx="292.5" cy="435.28" r="2.3" fill="#a08f82"/>
<circle cx="301.1" cy="435.28" r="2.3" fill="#a08f82"/>
<circle cx="309.7" cy="435.28" r="2.3" fill="#a08f82"/>
<circle cx="318.3" cy="435.28" r="2.3" fill="#a08f82"/>
<circle cx="326.9" cy="435.28" r="2.3" fill="#a08f82"/>
<circle cx="335.5" cy="435.28" r="2.3" fill="#a08f82"/>
<circle cx="344.1" cy="435.28" r="2.3" fill="#a08f82"/>
<circle cx="352.7" cy="435.28" r="2.3" fill="#a08f82"/>
<circle cx="361.3" cy="435.28" r="2.3" fill="#a08f82"/>
<circle cx="369.9" cy="435.28" r="2.3" fill="#a08f82"/>
<circle cx="288" cy="439.32" r="2.3" fill="#a08f82"/>
<circle cx="296.6" cy="439.32" r="2.3" fill="#a08f82"/>
<circle cx="305.2" cy="439.32" r="2.3" fill="#a08f82"/>
<circle cx="313.8" cy="439.32" r="2.3" fill="#a08f82"/>
<circle cx="322.4" cy="439.32" r="2.3" fill="#a08f82"/>
<circle cx="331" cy="439.32" r="2.3" fill="#a08f82"/>
<circle cx="339.6" cy="439.32" r="2.3" fill="#a08f82"/>
<circle cx="348.2" cy="439.32" r="2.3" fill="#a08f82"/>
<circle cx="356.8" cy="439.32" r="2.3" fill="#a08f82"/>
<circle cx="365.4" cy="439.32" r="2.3" fill="#a08f82"/>
<circle cx="292.5" cy="443.36" r="2.3" fill="#a08f82"/>
<circle cx="301.1" cy="443.36" r="2.3" fill="#a08f82"/>
<circle cx="309.7" cy="443.36" r="2.3" fill="#a08f82"/>
<circle cx="318.3" cy="443.36" r="2.3" fill="#a08f82"/>
<circle cx="326.9" cy="443.36" r="2.3" fill="#a08f82"/>
<circle cx="335.5" cy="443.36" r="2.3" fill="#a08f82"/>
<circle cx="344.1" cy="443.36" r="2.3" fill="#a08f82"/>
<circle cx="352.7" cy="443.36" r="2.3" fill="#a08f82"/>
<circle cx="361.3" cy="443.36" r="2.3" fill="#a08f82"/>
<circle cx="369.9" cy="443.36" r="2.3" fill="#a08f82"/>
<circle cx="288" cy="447.4" r="2.3" fill="#a08f82"/>
<circle cx="296.6" cy="447.4" r="2.3" fill="#a08f82"/>
<circle cx="305.2" cy="447.4" r="2.3" fill="#a08f82"/>
<circle cx="313.8" cy="447.4" r="2.3" fill="#a08f82"/>
<circle cx="322.4" cy="447.4" r="2.3" fill="#a08f82"/>
<circle cx="331" cy="447.4" r="2.3" fill="#a08f82"/>
<circle cx="339.6" cy="447.4" r="2.3" fill="#a08f82"/>
<circle cx="348.2" cy="447.4" r="2.3" fill="#a08f82"/>
<circle cx="356.8" cy="447.4" r="2.3" fill="#a08f82"/>
<circle cx="365.4" cy="447.4" r="2.3" fill="#a08f82"/>
<circle cx="292.5" cy="451.44" r="2.3" fill="#a08f82"/>
<circle cx="301.1" cy="451.44" r="2.3" fill="#a08f82"/>
<circle cx="309.7" cy="451.44" r="2.3" fill="#a08f82"/>
<circle cx="318.3" cy="451.44" r="2.3" fill="#a08f82"/>
<circle cx="326.9" cy="451.44" r="2.3" fill="#a08f82"/>
<circle cx="335.5" cy="451.44" r="2.3" fill="#a08f82"/>
<circle cx="344.1" cy="451.44" r="2.3" fill="#a08f82"/>
<circle cx="352.7" cy="451.44" r="2.3" fill="#a08f82"/>
<circle cx="361.3" cy="451.44" r="2.3" fill="#a08f82"/>
<circle cx="369.9" cy="451.44" r="2.3" fill="#a08f82"/>
<circle cx="288" cy="455.48" r="2.3" fill="#a08f82"/>
<circle cx="296.6" cy="455.48" r="2.3" fill="#a08f82"/>
<circle cx="305.2" cy="455.48" r="2.3" fill="#a08f82"/>
<circle cx="313.8" cy="455.48" r="2.3" fill="#a08f82"/>
<circle cx="322.4" cy="455.48" r="2.3" fill="#a08f82"/>
<circle cx="331" cy="455.48" r="2.3" fill="#a08f82"/>
<circle cx="339.6" cy="455.48" r="2.3" fill="#a08f82"/>
<circle cx="348.2" cy="455.48" r="2.3" fill="#a08f82"/>
<circle cx="356.8" cy="455.48" r="2.3" fill="#a08f82"/>
<circle cx="365.4" cy="455.48" r="2.3" fill="#a08f82"/>
<circle cx="292.5" cy="459.52" r="2.3" fill="#a08f82"/>
<circle cx="301.1" cy="459.52" r="2.3" fill="#a08f82"/>
<circle cx="309.7" cy="459.52" r="2.3" fill="#a08f82"/>
<circle cx="318.3" cy="459.52" r="2.3" fill="#a08f82"/>
<circle cx="326.9" cy="459.52" r="2.3" fill="#a08f82"/>
<circle cx="335.5" cy="459.52" r="2.3" fill="#a08f82"/>
<circle cx="344.1" cy="459.52" r="2.3" fill="#a08f82"/>
<circle cx="352.7" cy="459.52" r="2.3" fill="#a08f82"/>
<circle cx="361.3" cy="459.52" r="2.3" fill="#a08f82"/>
<circle cx="369.9" cy="459.52" r="2.3" fill="#a08f82"/>
<circle cx="288" cy="463.56" r="2.3" fill="#a08f82"/>
<circle cx="296.6" cy="463.56" r="2.3" fill="#a08f82"/>
<circle cx="305.2" cy="463.56" r="2.3" fill="#a08f82"/>
<circle cx="313.8" cy="463.56" r="2.3" fill="#a08f82"/>
<circle cx="322.4" cy="463.56" r="2.3" fill="#a08f82"/>
<circle cx="331" cy="463.56" r="2.3" fill="#a08f82"/>
<circle cx="339.6" cy="463.56" r="2.3" fill="#a08f82"/>
<circle cx="348.2" cy="463.56" r="2.3" fill="#a08f82"/>
<circle cx="356.8" cy="463.56" r="2.3" fill="#a08f82"/>
<circle cx="365.4" cy="463.56" r="2.3" fill="#a08f82"/>
</g>
<rect x="510" y="381" width="94" height="88" fill="#000"/><g filter="url(#bl5)">
<rect x="518" y="387" width="79" height="76" fill="#221d1a"/>
<line x1="521" y1="392" x2="594" y2="392" stroke="#4a4036" stroke-width="0.7"/>
<line x1="521" y1="395.58" x2="594" y2="395.58" stroke="#4a4036" stroke-width="0.7"/>
<line x1="521" y1="399.16" x2="594" y2="399.16" stroke="#4a4036" stroke-width="0.7"/>
<line x1="521" y1="402.74" x2="594" y2="402.74" stroke="#4a4036" stroke-width="0.7"/>
<line x1="521" y1="406.32" x2="594" y2="406.32" stroke="#4a4036" stroke-width="0.7"/>
<line x1="521" y1="409.9" x2="594" y2="409.9" stroke="#4a4036" stroke-width="0.7"/>
<line x1="521" y1="413.48" x2="594" y2="413.48" stroke="#4a4036" stroke-width="0.7"/>
<line x1="521" y1="417.06" x2="594" y2="417.06" stroke="#4a4036" stroke-width="0.7"/>
<line x1="521" y1="420.64" x2="594" y2="420.64" stroke="#4a4036" stroke-width="0.7"/>
<line x1="521" y1="424.22" x2="594" y2="424.22" stroke="#4a4036" stroke-width="0.7"/>
<line x1="521" y1="427.8" x2="594" y2="427.8" stroke="#4a4036" stroke-width="0.7"/>
<line x1="521" y1="431.38" x2="594" y2="431.38" stroke="#4a4036" stroke-width="0.7"/>
<line x1="521" y1="434.96" x2="594" y2="434.96" stroke="#4a4036" stroke-width="0.7"/>
<line x1="521" y1="438.54" x2="594" y2="438.54" stroke="#4a4036" stroke-width="0.7"/>
<line x1="521" y1="442.12" x2="594" y2="442.12" stroke="#4a4036" stroke-width="0.7"/>
<line x1="521" y1="445.7" x2="594" y2="445.7" stroke="#4a4036" stroke-width="0.7"/>
<line x1="521" y1="449.28" x2="594" y2="449.28" stroke="#4a4036" stroke-width="0.7"/>
<line x1="521" y1="452.86" x2="594" y2="452.86" stroke="#4a4036" stroke-width="0.7"/>
<line x1="521" y1="456.44" x2="594" y2="456.44" stroke="#4a4036" stroke-width="0.7"/>
<line x1="521" y1="460.02" x2="594" y2="460.02" stroke="#4a4036" stroke-width="0.7"/>
<line x1="521" y1="389" x2="521" y2="461" stroke="#4a4036" stroke-width="0.7"/>
<line x1="524.75" y1="389" x2="524.75" y2="461" stroke="#4a4036" stroke-width="0.7"/>
<line x1="528.5" y1="389" x2="528.5" y2="461" stroke="#4a4036" stroke-width="0.7"/>
<line x1="532.25" y1="389" x2="532.25" y2="461" stroke="#4a4036" stroke-width="0.7"/>
<line x1="536" y1="389" x2="536" y2="461" stroke="#4a4036" stroke-width="0.7"/>
<line x1="539.75" y1="389" x2="539.75" y2="461" stroke="#4a4036" stroke-width="0.7"/>
<line x1="543.5" y1="389" x2="543.5" y2="461" stroke="#4a4036" stroke-width="0.7"/>
<line x1="547.25" y1="389" x2="547.25" y2="461" stroke="#4a4036" stroke-width="0.7"/>
<line x1="551" y1="389" x2="551" y2="461" stroke="#4a4036" stroke-width="0.7"/>
<line x1="554.75" y1="389" x2="554.75" y2="461" stroke="#4a4036" stroke-width="0.7"/>
<line x1="558.5" y1="389" x2="558.5" y2="461" stroke="#4a4036" stroke-width="0.7"/>
<line x1="562.25" y1="389" x2="562.25" y2="461" stroke="#4a4036" stroke-width="0.7"/>
<line x1="566" y1="389" x2="566" y2="461" stroke="#4a4036" stroke-width="0.7"/>
<line x1="569.75" y1="389" x2="569.75" y2="461" stroke="#4a4036" stroke-width="0.7"/>
<line x1="573.5" y1="389" x2="573.5" y2="461" stroke="#4a4036" stroke-width="0.7"/>
<line x1="577.25" y1="389" x2="577.25" y2="461" stroke="#4a4036" stroke-width="0.7"/>
<line x1="581" y1="389" x2="581" y2="461" stroke="#4a4036" stroke-width="0.7"/>
<line x1="584.75" y1="389" x2="584.75" y2="461" stroke="#4a4036" stroke-width="0.7"/>
<line x1="588.5" y1="389" x2="588.5" y2="461" stroke="#4a4036" stroke-width="0.7"/>
<line x1="592.25" y1="389" x2="592.25" y2="461" stroke="#4a4036" stroke-width="0.7"/>
<circle cx="525" cy="392" r="1.45" fill="#d6c69e"/>
<circle cx="532.5" cy="392" r="1.45" fill="#d6c69e"/>
<circle cx="540" cy="392" r="1.45" fill="#d6c69e"/>
<circle cx="547.5" cy="392" r="1.45" fill="#d6c69e"/>
<circle cx="555" cy="392" r="1.45" fill="#d6c69e"/>
<circle cx="562.5" cy="392" r="1.45" fill="#d6c69e"/>
<circle cx="570" cy="392" r="1.45" fill="#d6c69e"/>
<circle cx="577.5" cy="392" r="1.45" fill="#d6c69e"/>
<circle cx="585" cy="392" r="1.45" fill="#d6c69e"/>
<circle cx="592.5" cy="392" r="1.45" fill="#d6c69e"/>
<circle cx="521.25" cy="395.58" r="1.45" fill="#d6c69e"/>
<circle cx="528.75" cy="395.58" r="1.45" fill="#9a8c7c"/>
<circle cx="536.25" cy="395.58" r="1.45" fill="#9a8c7c"/>
<circle cx="543.75" cy="395.58" r="1.45" fill="#9a8c7c"/>
<circle cx="551.25" cy="395.58" r="1.45" fill="#9a8c7c"/>
<circle cx="558.75" cy="395.58" r="1.45" fill="#9a8c7c"/>
<circle cx="566.25" cy="395.58" r="1.45" fill="#9a8c7c"/>
<circle cx="573.75" cy="395.58" r="1.45" fill="#9a8c7c"/>
<circle cx="581.25" cy="395.58" r="1.45" fill="#9a8c7c"/>
<circle cx="588.75" cy="395.58" r="1.45" fill="#9a8c7c"/>
<circle cx="525" cy="399.16" r="1.45" fill="#9a8c7c"/>
<circle cx="532.5" cy="399.16" r="1.45" fill="#9a8c7c"/>
<circle cx="540" cy="399.16" r="1.45" fill="#9a8c7c"/>
<circle cx="547.5" cy="399.16" r="1.45" fill="#9a8c7c"/>
<circle cx="555" cy="399.16" r="1.45" fill="#9a8c7c"/>
<circle cx="562.5" cy="399.16" r="1.45" fill="#9a8c7c"/>
<circle cx="570" cy="399.16" r="1.45" fill="#9a8c7c"/>
<circle cx="577.5" cy="399.16" r="1.45" fill="#9a8c7c"/>
<circle cx="585" cy="399.16" r="1.45" fill="#9a8c7c"/>
<circle cx="592.5" cy="399.16" r="1.45" fill="#d6c69e"/>
<circle cx="521.25" cy="402.74" r="1.45" fill="#d6c69e"/>
<circle cx="528.75" cy="402.74" r="1.45" fill="#9a8c7c"/>
<circle cx="536.25" cy="402.74" r="1.45" fill="#9a8c7c"/>
<circle cx="543.75" cy="402.74" r="1.45" fill="#9a8c7c"/>
<circle cx="551.25" cy="402.74" r="1.45" fill="#9a8c7c"/>
<circle cx="558.75" cy="402.74" r="1.45" fill="#9a8c7c"/>
<circle cx="566.25" cy="402.74" r="1.45" fill="#9a8c7c"/>
<circle cx="573.75" cy="402.74" r="1.45" fill="#9a8c7c"/>
<circle cx="581.25" cy="402.74" r="1.45" fill="#9a8c7c"/>
<circle cx="588.75" cy="402.74" r="1.45" fill="#9a8c7c"/>
<circle cx="525" cy="406.32" r="1.45" fill="#9a8c7c"/>
<circle cx="532.5" cy="406.32" r="1.45" fill="#9a8c7c"/>
<circle cx="540" cy="406.32" r="1.45" fill="#9a8c7c"/>
<circle cx="547.5" cy="406.32" r="1.45" fill="#9a8c7c"/>
<circle cx="555" cy="406.32" r="1.45" fill="#9a8c7c"/>
<circle cx="562.5" cy="406.32" r="1.45" fill="#9a8c7c"/>
<circle cx="570" cy="406.32" r="1.45" fill="#9a8c7c"/>
<circle cx="577.5" cy="406.32" r="1.45" fill="#9a8c7c"/>
<circle cx="585" cy="406.32" r="1.45" fill="#9a8c7c"/>
<circle cx="592.5" cy="406.32" r="1.45" fill="#d6c69e"/>
<circle cx="521.25" cy="409.9" r="1.45" fill="#d6c69e"/>
<circle cx="528.75" cy="409.9" r="1.45" fill="#9a8c7c"/>
<circle cx="536.25" cy="409.9" r="1.45" fill="#9a8c7c"/>
<circle cx="543.75" cy="409.9" r="1.45" fill="#9a8c7c"/>
<circle cx="551.25" cy="409.9" r="1.45" fill="#9a8c7c"/>
<circle cx="558.75" cy="409.9" r="1.45" fill="#9a8c7c"/>
<circle cx="566.25" cy="409.9" r="1.45" fill="#9a8c7c"/>
<circle cx="573.75" cy="409.9" r="1.45" fill="#9a8c7c"/>
<circle cx="581.25" cy="409.9" r="1.45" fill="#9a8c7c"/>
<circle cx="588.75" cy="409.9" r="1.45" fill="#9a8c7c"/>
<circle cx="525" cy="413.48" r="1.45" fill="#9a8c7c"/>
<circle cx="532.5" cy="413.48" r="1.45" fill="#9a8c7c"/>
<circle cx="540" cy="413.48" r="1.45" fill="#9a8c7c"/>
<circle cx="547.5" cy="413.48" r="1.45" fill="#9a8c7c"/>
<circle cx="555" cy="413.48" r="1.45" fill="#9a8c7c"/>
<circle cx="562.5" cy="413.48" r="1.45" fill="#9a8c7c"/>
<circle cx="570" cy="413.48" r="1.45" fill="#9a8c7c"/>
<circle cx="577.5" cy="413.48" r="1.45" fill="#9a8c7c"/>
<circle cx="585" cy="413.48" r="1.45" fill="#9a8c7c"/>
<circle cx="592.5" cy="413.48" r="1.45" fill="#d6c69e"/>
<circle cx="521.25" cy="417.06" r="1.45" fill="#d6c69e"/>
<circle cx="528.75" cy="417.06" r="1.45" fill="#9a8c7c"/>
<circle cx="536.25" cy="417.06" r="1.45" fill="#9a8c7c"/>
<circle cx="543.75" cy="417.06" r="1.45" fill="#9a8c7c"/>
<circle cx="551.25" cy="417.06" r="1.45" fill="#9a8c7c"/>
<circle cx="558.75" cy="417.06" r="1.45" fill="#9a8c7c"/>
<circle cx="566.25" cy="417.06" r="1.45" fill="#9a8c7c"/>
<circle cx="573.75" cy="417.06" r="1.45" fill="#9a8c7c"/>
<circle cx="581.25" cy="417.06" r="1.45" fill="#9a8c7c"/>
<circle cx="588.75" cy="417.06" r="1.45" fill="#9a8c7c"/>
<circle cx="525" cy="420.64" r="1.45" fill="#9a8c7c"/>
<circle cx="532.5" cy="420.64" r="1.45" fill="#9a8c7c"/>
<circle cx="540" cy="420.64" r="1.45" fill="#9a8c7c"/>
<circle cx="547.5" cy="420.64" r="1.45" fill="#9a8c7c"/>
<circle cx="555" cy="420.64" r="1.45" fill="#9a8c7c"/>
<circle cx="562.5" cy="420.64" r="1.45" fill="#9a8c7c"/>
<circle cx="570" cy="420.64" r="1.45" fill="#9a8c7c"/>
<circle cx="577.5" cy="420.64" r="1.45" fill="#9a8c7c"/>
<circle cx="585" cy="420.64" r="1.45" fill="#9a8c7c"/>
<circle cx="592.5" cy="420.64" r="1.45" fill="#d6c69e"/>
<circle cx="521.25" cy="424.22" r="1.45" fill="#d6c69e"/>
<circle cx="528.75" cy="424.22" r="1.45" fill="#9a8c7c"/>
<circle cx="536.25" cy="424.22" r="1.45" fill="#9a8c7c"/>
<circle cx="543.75" cy="424.22" r="1.45" fill="#9a8c7c"/>
<circle cx="551.25" cy="424.22" r="1.45" fill="#9a8c7c"/>
<circle cx="558.75" cy="424.22" r="1.45" fill="#9a8c7c"/>
<circle cx="566.25" cy="424.22" r="1.45" fill="#9a8c7c"/>
<circle cx="573.75" cy="424.22" r="1.45" fill="#9a8c7c"/>
<circle cx="581.25" cy="424.22" r="1.45" fill="#9a8c7c"/>
<circle cx="588.75" cy="424.22" r="1.45" fill="#9a8c7c"/>
<circle cx="525" cy="427.8" r="1.45" fill="#9a8c7c"/>
<circle cx="532.5" cy="427.8" r="1.45" fill="#9a8c7c"/>
<circle cx="540" cy="427.8" r="1.45" fill="#9a8c7c"/>
<circle cx="547.5" cy="427.8" r="1.45" fill="#9a8c7c"/>
<circle cx="555" cy="427.8" r="1.45" fill="#9a8c7c"/>
<circle cx="562.5" cy="427.8" r="1.45" fill="#9a8c7c"/>
<circle cx="570" cy="427.8" r="1.45" fill="#9a8c7c"/>
<circle cx="577.5" cy="427.8" r="1.45" fill="#9a8c7c"/>
<circle cx="585" cy="427.8" r="1.45" fill="#9a8c7c"/>
<circle cx="592.5" cy="427.8" r="1.45" fill="#d6c69e"/>
<circle cx="521.25" cy="431.38" r="1.45" fill="#d6c69e"/>
<circle cx="528.75" cy="431.38" r="1.45" fill="#9a8c7c"/>
<circle cx="536.25" cy="431.38" r="1.45" fill="#9a8c7c"/>
<circle cx="543.75" cy="431.38" r="1.45" fill="#9a8c7c"/>
<circle cx="551.25" cy="431.38" r="1.45" fill="#9a8c7c"/>
<circle cx="558.75" cy="431.38" r="1.45" fill="#9a8c7c"/>
<circle cx="566.25" cy="431.38" r="1.45" fill="#9a8c7c"/>
<circle cx="573.75" cy="431.38" r="1.45" fill="#9a8c7c"/>
<circle cx="581.25" cy="431.38" r="1.45" fill="#9a8c7c"/>
<circle cx="588.75" cy="431.38" r="1.45" fill="#9a8c7c"/>
<circle cx="525" cy="434.96" r="1.45" fill="#9a8c7c"/>
<circle cx="532.5" cy="434.96" r="1.45" fill="#9a8c7c"/>
<circle cx="540" cy="434.96" r="1.45" fill="#9a8c7c"/>
<circle cx="547.5" cy="434.96" r="1.45" fill="#9a8c7c"/>
<circle cx="555" cy="434.96" r="1.45" fill="#9a8c7c"/>
<circle cx="562.5" cy="434.96" r="1.45" fill="#9a8c7c"/>
<circle cx="570" cy="434.96" r="1.45" fill="#9a8c7c"/>
<circle cx="577.5" cy="434.96" r="1.45" fill="#9a8c7c"/>
<circle cx="585" cy="434.96" r="1.45" fill="#9a8c7c"/>
<circle cx="592.5" cy="434.96" r="1.45" fill="#d6c69e"/>
<circle cx="521.25" cy="438.54" r="1.45" fill="#d6c69e"/>
<circle cx="528.75" cy="438.54" r="1.45" fill="#9a8c7c"/>
<circle cx="536.25" cy="438.54" r="1.45" fill="#9a8c7c"/>
<circle cx="543.75" cy="438.54" r="1.45" fill="#9a8c7c"/>
<circle cx="551.25" cy="438.54" r="1.45" fill="#9a8c7c"/>
<circle cx="558.75" cy="438.54" r="1.45" fill="#9a8c7c"/>
<circle cx="566.25" cy="438.54" r="1.45" fill="#9a8c7c"/>
<circle cx="573.75" cy="438.54" r="1.45" fill="#9a8c7c"/>
<circle cx="581.25" cy="438.54" r="1.45" fill="#9a8c7c"/>
<circle cx="588.75" cy="438.54" r="1.45" fill="#9a8c7c"/>
<circle cx="525" cy="442.12" r="1.45" fill="#9a8c7c"/>
<circle cx="532.5" cy="442.12" r="1.45" fill="#9a8c7c"/>
<circle cx="540" cy="442.12" r="1.45" fill="#9a8c7c"/>
<circle cx="547.5" cy="442.12" r="1.45" fill="#9a8c7c"/>
<circle cx="555" cy="442.12" r="1.45" fill="#9a8c7c"/>
<circle cx="562.5" cy="442.12" r="1.45" fill="#9a8c7c"/>
<circle cx="570" cy="442.12" r="1.45" fill="#9a8c7c"/>
<circle cx="577.5" cy="442.12" r="1.45" fill="#9a8c7c"/>
<circle cx="585" cy="442.12" r="1.45" fill="#9a8c7c"/>
<circle cx="592.5" cy="442.12" r="1.45" fill="#d6c69e"/>
<circle cx="521.25" cy="445.7" r="1.45" fill="#d6c69e"/>
<circle cx="528.75" cy="445.7" r="1.45" fill="#9a8c7c"/>
<circle cx="536.25" cy="445.7" r="1.45" fill="#9a8c7c"/>
<circle cx="543.75" cy="445.7" r="1.45" fill="#9a8c7c"/>
<circle cx="551.25" cy="445.7" r="1.45" fill="#9a8c7c"/>
<circle cx="558.75" cy="445.7" r="1.45" fill="#9a8c7c"/>
<circle cx="566.25" cy="445.7" r="1.45" fill="#9a8c7c"/>
<circle cx="573.75" cy="445.7" r="1.45" fill="#9a8c7c"/>
<circle cx="581.25" cy="445.7" r="1.45" fill="#9a8c7c"/>
<circle cx="588.75" cy="445.7" r="1.45" fill="#9a8c7c"/>
<circle cx="525" cy="449.28" r="1.45" fill="#9a8c7c"/>
<circle cx="532.5" cy="449.28" r="1.45" fill="#9a8c7c"/>
<circle cx="540" cy="449.28" r="1.45" fill="#9a8c7c"/>
<circle cx="547.5" cy="449.28" r="1.45" fill="#9a8c7c"/>
<circle cx="555" cy="449.28" r="1.45" fill="#9a8c7c"/>
<circle cx="562.5" cy="449.28" r="1.45" fill="#9a8c7c"/>
<circle cx="570" cy="449.28" r="1.45" fill="#9a8c7c"/>
<circle cx="577.5" cy="449.28" r="1.45" fill="#9a8c7c"/>
<circle cx="585" cy="449.28" r="1.45" fill="#9a8c7c"/>
<circle cx="592.5" cy="449.28" r="1.45" fill="#d6c69e"/>
<circle cx="521.25" cy="452.86" r="1.45" fill="#d6c69e"/>
<circle cx="528.75" cy="452.86" r="1.45" fill="#9a8c7c"/>
<circle cx="536.25" cy="452.86" r="1.45" fill="#9a8c7c"/>
<circle cx="543.75" cy="452.86" r="1.45" fill="#9a8c7c"/>
<circle cx="551.25" cy="452.86" r="1.45" fill="#9a8c7c"/>
<circle cx="558.75" cy="452.86" r="1.45" fill="#9a8c7c"/>
<circle cx="566.25" cy="452.86" r="1.45" fill="#9a8c7c"/>
<circle cx="573.75" cy="452.86" r="1.45" fill="#9a8c7c"/>
<circle cx="581.25" cy="452.86" r="1.45" fill="#9a8c7c"/>
<circle cx="588.75" cy="452.86" r="1.45" fill="#9a8c7c"/>
<circle cx="525" cy="456.44" r="1.45" fill="#d6c69e"/>
<circle cx="532.5" cy="456.44" r="1.45" fill="#d6c69e"/>
<circle cx="540" cy="456.44" r="1.45" fill="#d6c69e"/>
<circle cx="547.5" cy="456.44" r="1.45" fill="#d6c69e"/>
<circle cx="555" cy="456.44" r="1.45" fill="#d6c69e"/>
<circle cx="562.5" cy="456.44" r="1.45" fill="#d6c69e"/>
<circle cx="570" cy="456.44" r="1.45" fill="#d6c69e"/>
<circle cx="577.5" cy="456.44" r="1.45" fill="#d6c69e"/>
<circle cx="585" cy="456.44" r="1.45" fill="#d6c69e"/>
<circle cx="592.5" cy="456.44" r="1.45" fill="#d6c69e"/>
<circle cx="517" cy="385.5" r="1.4" fill="#7a6e62"/><circle cx="517" cy="465" r="1.4" fill="#7a6e62"/>
<circle cx="524.5" cy="385.5" r="1.4" fill="#7a6e62"/><circle cx="524.5" cy="465" r="1.4" fill="#7a6e62"/>
<circle cx="532" cy="385.5" r="1.4" fill="#7a6e62"/><circle cx="532" cy="465" r="1.4" fill="#7a6e62"/>
<circle cx="539.5" cy="385.5" r="1.4" fill="#7a6e62"/><circle cx="539.5" cy="465" r="1.4" fill="#7a6e62"/>
<circle cx="547" cy="385.5" r="1.4" fill="#7a6e62"/><circle cx="547" cy="465" r="1.4" fill="#7a6e62"/>
<circle cx="554.5" cy="385.5" r="1.4" fill="#7a6e62"/><circle cx="554.5" cy="465" r="1.4" fill="#7a6e62"/>
<circle cx="562" cy="385.5" r="1.4" fill="#7a6e62"/><circle cx="562" cy="465" r="1.4" fill="#7a6e62"/>
<circle cx="569.5" cy="385.5" r="1.4" fill="#7a6e62"/><circle cx="569.5" cy="465" r="1.4" fill="#7a6e62"/>
<circle cx="577" cy="385.5" r="1.4" fill="#7a6e62"/><circle cx="577" cy="465" r="1.4" fill="#7a6e62"/>
<circle cx="584.5" cy="385.5" r="1.4" fill="#7a6e62"/><circle cx="584.5" cy="465" r="1.4" fill="#7a6e62"/>
<circle cx="592" cy="385.5" r="1.4" fill="#7a6e62"/><circle cx="592" cy="465" r="1.4" fill="#7a6e62"/>
<circle cx="599.5" cy="385.5" r="1.4" fill="#7a6e62"/><circle cx="599.5" cy="465" r="1.4" fill="#7a6e62"/>
<circle cx="513.5" cy="389" r="1.4" fill="#6a5e52"/><circle cx="600" cy="389" r="1.4" fill="#6a5e52"/>
<circle cx="513.5" cy="396.16" r="1.4" fill="#6a5e52"/><circle cx="600" cy="396.16" r="1.4" fill="#6a5e52"/>
<circle cx="513.5" cy="403.32" r="1.4" fill="#6a5e52"/><circle cx="600" cy="403.32" r="1.4" fill="#6a5e52"/>
<circle cx="513.5" cy="410.48" r="1.4" fill="#6a5e52"/><circle cx="600" cy="410.48" r="1.4" fill="#6a5e52"/>
<circle cx="513.5" cy="417.64" r="1.4" fill="#6a5e52"/><circle cx="600" cy="417.64" r="1.4" fill="#6a5e52"/>
<circle cx="513.5" cy="424.8" r="1.4" fill="#6a5e52"/><circle cx="600" cy="424.8" r="1.4" fill="#6a5e52"/>
<circle cx="513.5" cy="431.96" r="1.4" fill="#6a5e52"/><circle cx="600" cy="431.96" r="1.4" fill="#6a5e52"/>
<circle cx="513.5" cy="439.12" r="1.4" fill="#6a5e52"/><circle cx="600" cy="439.12" r="1.4" fill="#6a5e52"/>
<circle cx="513.5" cy="446.28" r="1.4" fill="#6a5e52"/><circle cx="600" cy="446.28" r="1.4" fill="#6a5e52"/>
<circle cx="513.5" cy="453.44" r="1.4" fill="#6a5e52"/><circle cx="600" cy="453.44" r="1.4" fill="#6a5e52"/>
<circle cx="513.5" cy="460.6" r="1.4" fill="#6a5e52"/><circle cx="600" cy="460.6" r="1.4" fill="#6a5e52"/>
</g>
<rect x="515" y="649" width="94" height="88" fill="#000"/><g filter="url(#bl5)">
<rect x="523" y="656" width="81" height="76" rx="6" fill="#3a0e0a"/>
<line x1="524" y1="658" x2="603" y2="658" stroke="#a82a22" stroke-width="0.9"/>
<line x1="524" y1="661.55" x2="603" y2="661.55" stroke="#a82a22" stroke-width="0.9"/>
<line x1="524" y1="665.1" x2="603" y2="665.1" stroke="#a82a22" stroke-width="0.9"/>
<line x1="524" y1="668.65" x2="603" y2="668.65" stroke="#a82a22" stroke-width="0.9"/>
<line x1="524" y1="672.2" x2="603" y2="672.2" stroke="#a82a22" stroke-width="0.9"/>
<line x1="524" y1="675.75" x2="603" y2="675.75" stroke="#a82a22" stroke-width="0.9"/>
<line x1="524" y1="679.3" x2="603" y2="679.3" stroke="#a82a22" stroke-width="0.9"/>
<line x1="524" y1="682.85" x2="603" y2="682.85" stroke="#a82a22" stroke-width="0.9"/>
<line x1="524" y1="686.4" x2="603" y2="686.4" stroke="#a82a22" stroke-width="0.9"/>
<line x1="524" y1="689.95" x2="603" y2="689.95" stroke="#a82a22" stroke-width="0.9"/>
<line x1="524" y1="693.5" x2="603" y2="693.5" stroke="#a82a22" stroke-width="0.9"/>
<line x1="524" y1="697.05" x2="603" y2="697.05" stroke="#a82a22" stroke-width="0.9"/>
<line x1="524" y1="700.6" x2="603" y2="700.6" stroke="#a82a22" stroke-width="0.9"/>
<line x1="524" y1="704.15" x2="603" y2="704.15" stroke="#a82a22" stroke-width="0.9"/>
<line x1="524" y1="707.7" x2="603" y2="707.7" stroke="#a82a22" stroke-width="0.9"/>
<line x1="524" y1="711.25" x2="603" y2="711.25" stroke="#a82a22" stroke-width="0.9"/>
<line x1="524" y1="714.8" x2="603" y2="714.8" stroke="#a82a22" stroke-width="0.9"/>
<line x1="524" y1="718.35" x2="603" y2="718.35" stroke="#a82a22" stroke-width="0.9"/>
<line x1="524" y1="721.9" x2="603" y2="721.9" stroke="#a82a22" stroke-width="0.9"/>
<line x1="524" y1="725.45" x2="603" y2="725.45" stroke="#a82a22" stroke-width="0.9"/>
<line x1="524" y1="729" x2="603" y2="729" stroke="#a82a22" stroke-width="0.9"/>
<line x1="524.6" y1="657" x2="524.6" y2="731" stroke="#a82a22" stroke-width="0.9"/>
<line x1="528.18" y1="657" x2="528.18" y2="731" stroke="#a82a22" stroke-width="0.9"/>
<line x1="531.76" y1="657" x2="531.76" y2="731" stroke="#a82a22" stroke-width="0.9"/>
<line x1="535.34" y1="657" x2="535.34" y2="731" stroke="#a82a22" stroke-width="0.9"/>
<line x1="538.92" y1="657" x2="538.92" y2="731" stroke="#a82a22" stroke-width="0.9"/>
<line x1="542.5" y1="657" x2="542.5" y2="731" stroke="#a82a22" stroke-width="0.9"/>
<line x1="546.08" y1="657" x2="546.08" y2="731" stroke="#a82a22" stroke-width="0.9"/>
<line x1="549.66" y1="657" x2="549.66" y2="731" stroke="#a82a22" stroke-width="0.9"/>
<line x1="553.24" y1="657" x2="553.24" y2="731" stroke="#a82a22" stroke-width="0.9"/>
<line x1="556.82" y1="657" x2="556.82" y2="731" stroke="#a82a22" stroke-width="0.9"/>
<line x1="560.4" y1="657" x2="560.4" y2="731" stroke="#a82a22" stroke-width="0.9"/>
<line x1="563.98" y1="657" x2="563.98" y2="731" stroke="#a82a22" stroke-width="0.9"/>
<line x1="567.56" y1="657" x2="567.56" y2="731" stroke="#a82a22" stroke-width="0.9"/>
<line x1="571.14" y1="657" x2="571.14" y2="731" stroke="#a82a22" stroke-width="0.9"/>
<line x1="574.72" y1="657" x2="574.72" y2="731" stroke="#a82a22" stroke-width="0.9"/>
<line x1="578.3" y1="657" x2="578.3" y2="731" stroke="#a82a22" stroke-width="0.9"/>
<line x1="581.88" y1="657" x2="581.88" y2="731" stroke="#a82a22" stroke-width="0.9"/>
<line x1="585.46" y1="657" x2="585.46" y2="731" stroke="#a82a22" stroke-width="0.9"/>
<line x1="589.04" y1="657" x2="589.04" y2="731" stroke="#a82a22" stroke-width="0.9"/>
<line x1="592.62" y1="657" x2="592.62" y2="731" stroke="#a82a22" stroke-width="0.9"/>
<line x1="596.2" y1="657" x2="596.2" y2="731" stroke="#a82a22" stroke-width="0.9"/>
<line x1="599.78" y1="657" x2="599.78" y2="731" stroke="#a82a22" stroke-width="0.9"/>
<line x1="603.36" y1="657" x2="603.36" y2="731" stroke="#a82a22" stroke-width="0.9"/>
<circle cx="532" cy="661.5" r="1.5" fill="#e8d0b0"/>
<circle cx="539.16" cy="661.5" r="1.5" fill="#e8d0b0"/>
<circle cx="546.32" cy="661.5" r="1.5" fill="#e8d0b0"/>
<circle cx="553.48" cy="661.5" r="1.5" fill="#e8d0b0"/>
<circle cx="560.64" cy="661.5" r="1.5" fill="#e8d0b0"/>
<circle cx="567.8" cy="661.5" r="1.5" fill="#e8d0b0"/>
<circle cx="574.96" cy="661.5" r="1.5" fill="#e8d0b0"/>
<circle cx="582.12" cy="661.5" r="1.5" fill="#e8d0b0"/>
<circle cx="589.28" cy="661.5" r="1.5" fill="#e8d0b0"/>
<circle cx="596.44" cy="661.5" r="1.5" fill="#e8d0b0"/>
<circle cx="528.4" cy="665.05" r="1.5" fill="#e8d0b0"/>
<circle cx="535.56" cy="665.05" r="1.5" fill="#b89080"/>
<circle cx="542.72" cy="665.05" r="1.5" fill="#b89080"/>
<circle cx="549.88" cy="665.05" r="1.5" fill="#b89080"/>
<circle cx="557.04" cy="665.05" r="1.5" fill="#b89080"/>
<circle cx="564.2" cy="665.05" r="1.5" fill="#b89080"/>
<circle cx="571.36" cy="665.05" r="1.5" fill="#b89080"/>
<circle cx="578.52" cy="665.05" r="1.5" fill="#b89080"/>
<circle cx="585.68" cy="665.05" r="1.5" fill="#b89080"/>
<circle cx="592.84" cy="665.05" r="1.5" fill="#b89080"/>
<circle cx="600" cy="665.05" r="1.5" fill="#b89080"/>
<circle cx="532" cy="668.6" r="1.5" fill="#b89080"/>
<circle cx="539.16" cy="668.6" r="1.5" fill="#b89080"/>
<circle cx="546.32" cy="668.6" r="1.5" fill="#b89080"/>
<circle cx="553.48" cy="668.6" r="1.5" fill="#b89080"/>
<circle cx="560.64" cy="668.6" r="1.5" fill="#b89080"/>
<circle cx="567.8" cy="668.6" r="1.5" fill="#b89080"/>
<circle cx="574.96" cy="668.6" r="1.5" fill="#b89080"/>
<circle cx="582.12" cy="668.6" r="1.5" fill="#b89080"/>
<circle cx="589.28" cy="668.6" r="1.5" fill="#b89080"/>
<circle cx="596.44" cy="668.6" r="1.5" fill="#b89080"/>
<circle cx="528.4" cy="672.15" r="1.5" fill="#e8d0b0"/>
<circle cx="535.56" cy="672.15" r="1.5" fill="#b89080"/>
<circle cx="542.72" cy="672.15" r="1.5" fill="#b89080"/>
<circle cx="549.88" cy="672.15" r="1.5" fill="#b89080"/>
<circle cx="557.04" cy="672.15" r="1.5" fill="#b89080"/>
<circle cx="564.2" cy="672.15" r="1.5" fill="#b89080"/>
<circle cx="571.36" cy="672.15" r="1.5" fill="#b89080"/>
<circle cx="578.52" cy="672.15" r="1.5" fill="#b89080"/>
<circle cx="585.68" cy="672.15" r="1.5" fill="#b89080"/>
<circle cx="592.84" cy="672.15" r="1.5" fill="#b89080"/>
<circle cx="600" cy="672.15" r="1.5" fill="#b89080"/>
<circle cx="532" cy="675.7" r="1.5" fill="#b89080"/>
<circle cx="539.16" cy="675.7" r="1.5" fill="#b89080"/>
<circle cx="546.32" cy="675.7" r="1.5" fill="#b89080"/>
<circle cx="553.48" cy="675.7" r="1.5" fill="#b89080"/>
<circle cx="560.64" cy="675.7" r="1.5" fill="#b89080"/>
<circle cx="567.8" cy="675.7" r="1.5" fill="#b89080"/>
<circle cx="574.96" cy="675.7" r="1.5" fill="#b89080"/>
<circle cx="582.12" cy="675.7" r="1.5" fill="#b89080"/>
<circle cx="589.28" cy="675.7" r="1.5" fill="#b89080"/>
<circle cx="596.44" cy="675.7" r="1.5" fill="#b89080"/>
<circle cx="528.4" cy="679.25" r="1.5" fill="#e8d0b0"/>
<circle cx="535.56" cy="679.25" r="1.5" fill="#b89080"/>
<circle cx="542.72" cy="679.25" r="1.5" fill="#b89080"/>
<circle cx="549.88" cy="679.25" r="1.5" fill="#b89080"/>
<circle cx="557.04" cy="679.25" r="1.5" fill="#b89080"/>
<circle cx="564.2" cy="679.25" r="1.5" fill="#b89080"/>
<circle cx="571.36" cy="679.25" r="1.5" fill="#b89080"/>
<circle cx="578.52" cy="679.25" r="1.5" fill="#b89080"/>
<circle cx="585.68" cy="679.25" r="1.5" fill="#b89080"/>
<circle cx="592.84" cy="679.25" r="1.5" fill="#b89080"/>
<circle cx="600" cy="679.25" r="1.5" fill="#b89080"/>
<circle cx="532" cy="682.8" r="1.5" fill="#b89080"/>
<circle cx="539.16" cy="682.8" r="1.5" fill="#b89080"/>
<circle cx="546.32" cy="682.8" r="1.5" fill="#b89080"/>
<circle cx="553.48" cy="682.8" r="1.5" fill="#b89080"/>
<circle cx="560.64" cy="682.8" r="1.5" fill="#b89080"/>
<circle cx="567.8" cy="682.8" r="1.5" fill="#b89080"/>
<circle cx="574.96" cy="682.8" r="1.5" fill="#b89080"/>
<circle cx="582.12" cy="682.8" r="1.5" fill="#b89080"/>
<circle cx="589.28" cy="682.8" r="1.5" fill="#b89080"/>
<circle cx="596.44" cy="682.8" r="1.5" fill="#b89080"/>
<circle cx="528.4" cy="686.35" r="1.5" fill="#e8d0b0"/>
<circle cx="535.56" cy="686.35" r="1.5" fill="#b89080"/>
<circle cx="542.72" cy="686.35" r="1.5" fill="#b89080"/>
<circle cx="549.88" cy="686.35" r="1.5" fill="#b89080"/>
<circle cx="557.04" cy="686.35" r="1.5" fill="#b89080"/>
<circle cx="564.2" cy="686.35" r="1.5" fill="#b89080"/>
<circle cx="571.36" cy="686.35" r="1.5" fill="#b89080"/>
<circle cx="578.52" cy="686.35" r="1.5" fill="#b89080"/>
<circle cx="585.68" cy="686.35" r="1.5" fill="#b89080"/>
<circle cx="592.84" cy="686.35" r="1.5" fill="#b89080"/>
<circle cx="600" cy="686.35" r="1.5" fill="#b89080"/>
<circle cx="532" cy="689.9" r="1.5" fill="#b89080"/>
<circle cx="539.16" cy="689.9" r="1.5" fill="#b89080"/>
<circle cx="546.32" cy="689.9" r="1.5" fill="#b89080"/>
<circle cx="553.48" cy="689.9" r="1.5" fill="#b89080"/>
<circle cx="560.64" cy="689.9" r="1.5" fill="#b89080"/>
<circle cx="567.8" cy="689.9" r="1.5" fill="#b89080"/>
<circle cx="574.96" cy="689.9" r="1.5" fill="#b89080"/>
<circle cx="582.12" cy="689.9" r="1.5" fill="#b89080"/>
<circle cx="589.28" cy="689.9" r="1.5" fill="#b89080"/>
<circle cx="596.44" cy="689.9" r="1.5" fill="#b89080"/>
<circle cx="528.4" cy="693.45" r="1.5" fill="#e8d0b0"/>
<circle cx="535.56" cy="693.45" r="1.5" fill="#b89080"/>
<circle cx="542.72" cy="693.45" r="1.5" fill="#b89080"/>
<circle cx="549.88" cy="693.45" r="1.5" fill="#b89080"/>
<circle cx="557.04" cy="693.45" r="1.5" fill="#b89080"/>
<circle cx="564.2" cy="693.45" r="1.5" fill="#b89080"/>
<circle cx="571.36" cy="693.45" r="1.5" fill="#b89080"/>
<circle cx="578.52" cy="693.45" r="1.5" fill="#b89080"/>
<circle cx="585.68" cy="693.45" r="1.5" fill="#b89080"/>
<circle cx="592.84" cy="693.45" r="1.5" fill="#b89080"/>
<circle cx="600" cy="693.45" r="1.5" fill="#b89080"/>
<circle cx="532" cy="697" r="1.5" fill="#b89080"/>
<circle cx="539.16" cy="697" r="1.5" fill="#b89080"/>
<circle cx="546.32" cy="697" r="1.5" fill="#b89080"/>
<circle cx="553.48" cy="697" r="1.5" fill="#b89080"/>
<circle cx="560.64" cy="697" r="1.5" fill="#b89080"/>
<circle cx="567.8" cy="697" r="1.5" fill="#b89080"/>
<circle cx="574.96" cy="697" r="1.5" fill="#b89080"/>
<circle cx="582.12" cy="697" r="1.5" fill="#b89080"/>
<circle cx="589.28" cy="697" r="1.5" fill="#b89080"/>
<circle cx="596.44" cy="697" r="1.5" fill="#b89080"/>
<circle cx="528.4" cy="700.55" r="1.5" fill="#e8d0b0"/>
<circle cx="535.56" cy="700.55" r="1.5" fill="#b89080"/>
<circle cx="542.72" cy="700.55" r="1.5" fill="#b89080"/>
<circle cx="549.88" cy="700.55" r="1.5" fill="#b89080"/>
<circle cx="557.04" cy="700.55" r="1.5" fill="#b89080"/>
<circle cx="564.2" cy="700.55" r="1.5" fill="#b89080"/>
<circle cx="571.36" cy="700.55" r="1.5" fill="#b89080"/>
<circle cx="578.52" cy="700.55" r="1.5" fill="#b89080"/>
<circle cx="585.68" cy="700.55" r="1.5" fill="#b89080"/>
<circle cx="592.84" cy="700.55" r="1.5" fill="#b89080"/>
<circle cx="600" cy="700.55" r="1.5" fill="#b89080"/>
<circle cx="532" cy="704.1" r="1.5" fill="#b89080"/>
<circle cx="539.16" cy="704.1" r="1.5" fill="#b89080"/>
<circle cx="546.32" cy="704.1" r="1.5" fill="#b89080"/>
<circle cx="553.48" cy="704.1" r="1.5" fill="#b89080"/>
<circle cx="560.64" cy="704.1" r="1.5" fill="#b89080"/>
<circle cx="567.8" cy="704.1" r="1.5" fill="#b89080"/>
<circle cx="574.96" cy="704.1" r="1.5" fill="#b89080"/>
<circle cx="582.12" cy="704.1" r="1.5" fill="#b89080"/>
<circle cx="589.28" cy="704.1" r="1.5" fill="#b89080"/>
<circle cx="596.44" cy="704.1" r="1.5" fill="#b89080"/>
<circle cx="528.4" cy="707.65" r="1.5" fill="#e8d0b0"/>
<circle cx="535.56" cy="707.65" r="1.5" fill="#b89080"/>
<circle cx="542.72" cy="707.65" r="1.5" fill="#b89080"/>
<circle cx="549.88" cy="707.65" r="1.5" fill="#b89080"/>
<circle cx="557.04" cy="707.65" r="1.5" fill="#b89080"/>
<circle cx="564.2" cy="707.65" r="1.5" fill="#b89080"/>
<circle cx="571.36" cy="707.65" r="1.5" fill="#b89080"/>
<circle cx="578.52" cy="707.65" r="1.5" fill="#b89080"/>
<circle cx="585.68" cy="707.65" r="1.5" fill="#b89080"/>
<circle cx="592.84" cy="707.65" r="1.5" fill="#b89080"/>
<circle cx="600" cy="707.65" r="1.5" fill="#b89080"/>
<circle cx="532" cy="711.2" r="1.5" fill="#b89080"/>
<circle cx="539.16" cy="711.2" r="1.5" fill="#b89080"/>
<circle cx="546.32" cy="711.2" r="1.5" fill="#b89080"/>
<circle cx="553.48" cy="711.2" r="1.5" fill="#b89080"/>
<circle cx="560.64" cy="711.2" r="1.5" fill="#b89080"/>
<circle cx="567.8" cy="711.2" r="1.5" fill="#b89080"/>
<circle cx="574.96" cy="711.2" r="1.5" fill="#b89080"/>
<circle cx="582.12" cy="711.2" r="1.5" fill="#b89080"/>
<circle cx="589.28" cy="711.2" r="1.5" fill="#b89080"/>
<circle cx="596.44" cy="711.2" r="1.5" fill="#b89080"/>
<circle cx="528.4" cy="714.75" r="1.5" fill="#e8d0b0"/>
<circle cx="535.56" cy="714.75" r="1.5" fill="#b89080"/>
<circle cx="542.72" cy="714.75" r="1.5" fill="#b89080"/>
<circle cx="549.88" cy="714.75" r="1.5" fill="#b89080"/>
<circle cx="557.04" cy="714.75" r="1.5" fill="#b89080"/>
<circle cx="564.2" cy="714.75" r="1.5" fill="#b89080"/>
<circle cx="571.36" cy="714.75" r="1.5" fill="#b89080"/>
<circle cx="578.52" cy="714.75" r="1.5" fill="#b89080"/>
<circle cx="585.68" cy="714.75" r="1.5" fill="#b89080"/>
<circle cx="592.84" cy="714.75" r="1.5" fill="#b89080"/>
<circle cx="600" cy="714.75" r="1.5" fill="#b89080"/>
<circle cx="532" cy="718.3" r="1.5" fill="#b89080"/>
<circle cx="539.16" cy="718.3" r="1.5" fill="#b89080"/>
<circle cx="546.32" cy="718.3" r="1.5" fill="#b89080"/>
<circle cx="553.48" cy="718.3" r="1.5" fill="#b89080"/>
<circle cx="560.64" cy="718.3" r="1.5" fill="#b89080"/>
<circle cx="567.8" cy="718.3" r="1.5" fill="#b89080"/>
<circle cx="574.96" cy="718.3" r="1.5" fill="#b89080"/>
<circle cx="582.12" cy="718.3" r="1.5" fill="#b89080"/>
<circle cx="589.28" cy="718.3" r="1.5" fill="#b89080"/>
<circle cx="596.44" cy="718.3" r="1.5" fill="#b89080"/>
<circle cx="528.4" cy="721.85" r="1.5" fill="#e8d0b0"/>
<circle cx="535.56" cy="721.85" r="1.5" fill="#b89080"/>
<circle cx="542.72" cy="721.85" r="1.5" fill="#b89080"/>
<circle cx="549.88" cy="721.85" r="1.5" fill="#b89080"/>
<circle cx="557.04" cy="721.85" r="1.5" fill="#b89080"/>
<circle cx="564.2" cy="721.85" r="1.5" fill="#b89080"/>
<circle cx="571.36" cy="721.85" r="1.5" fill="#b89080"/>
<circle cx="578.52" cy="721.85" r="1.5" fill="#b89080"/>
<circle cx="585.68" cy="721.85" r="1.5" fill="#b89080"/>
<circle cx="592.84" cy="721.85" r="1.5" fill="#b89080"/>
<circle cx="600" cy="721.85" r="1.5" fill="#b89080"/>
<circle cx="532" cy="725.4" r="1.5" fill="#b89080"/>
<circle cx="539.16" cy="725.4" r="1.5" fill="#b89080"/>
<circle cx="546.32" cy="725.4" r="1.5" fill="#b89080"/>
<circle cx="553.48" cy="725.4" r="1.5" fill="#b89080"/>
<circle cx="560.64" cy="725.4" r="1.5" fill="#b89080"/>
<circle cx="567.8" cy="725.4" r="1.5" fill="#b89080"/>
<circle cx="574.96" cy="725.4" r="1.5" fill="#b89080"/>
<circle cx="582.12" cy="725.4" r="1.5" fill="#b89080"/>
<circle cx="589.28" cy="725.4" r="1.5" fill="#b89080"/>
<circle cx="596.44" cy="725.4" r="1.5" fill="#b89080"/>
<circle cx="528.4" cy="728.95" r="1.5" fill="#e8d0b0"/>
<circle cx="535.56" cy="728.95" r="1.5" fill="#e8d0b0"/>
<circle cx="542.72" cy="728.95" r="1.5" fill="#e8d0b0"/>
<circle cx="549.88" cy="728.95" r="1.5" fill="#e8d0b0"/>
<circle cx="557.04" cy="728.95" r="1.5" fill="#e8d0b0"/>
<circle cx="564.2" cy="728.95" r="1.5" fill="#e8d0b0"/>
<circle cx="571.36" cy="728.95" r="1.5" fill="#e8d0b0"/>
<circle cx="578.52" cy="728.95" r="1.5" fill="#e8d0b0"/>
<circle cx="585.68" cy="728.95" r="1.5" fill="#e8d0b0"/>
<circle cx="592.84" cy="728.95" r="1.5" fill="#e8d0b0"/>
<circle cx="600" cy="728.95" r="1.5" fill="#e8d0b0"/>
<rect x="523" y="656" width="81" height="76" rx="6" fill="none" stroke="#c8342c" stroke-width="1.6"/>
<rect x="519.8" y="653" width="87.4" height="82" rx="8" fill="none" stroke="#c8342c" stroke-width="2.4" stroke-dasharray="2.5 4.6"/>
</g>
<g filter="url(#bl5)">
<rect x="57" y="656" width="80" height="75" rx="7" fill="#eed8ee"/>
<circle cx="60.6" cy="659" r="1.9" fill="none" stroke="#b866be" stroke-width="0.8"/>
<circle cx="67.8" cy="659" r="1.9" fill="none" stroke="#b866be" stroke-width="0.8"/>
<circle cx="75" cy="659" r="1.9" fill="none" stroke="#b866be" stroke-width="0.8"/>
<circle cx="82.2" cy="659" r="1.9" fill="none" stroke="#b866be" stroke-width="0.8"/>
<circle cx="89.4" cy="659" r="1.9" fill="none" stroke="#b866be" stroke-width="0.8"/>
<circle cx="96.6" cy="659" r="1.9" fill="none" stroke="#b866be" stroke-width="0.8"/>
<circle cx="103.8" cy="659" r="1.9" fill="none" stroke="#b866be" stroke-width="0.8"/>
<circle cx="111" cy="659" r="1.9" fill="none" stroke="#b866be" stroke-width="0.8"/>
<circle cx="118.2" cy="659" r="1.9" fill="none" stroke="#b866be" stroke-width="0.8"/>
<circle cx="125.4" cy="659" r="1.9" fill="none" stroke="#b866be" stroke-width="0.8"/>
<circle cx="132.6" cy="659" r="1.9" fill="none" stroke="#b866be" stroke-width="0.8"/>
<circle cx="57" cy="662.6" r="1.9" fill="none" stroke="#b866be" stroke-width="0.8"/>
<circle cx="64.2" cy="662.6" r="1.9" fill="none" stroke="#b866be" stroke-width="0.8"/>
<circle cx="71.4" cy="662.6" r="1.9" fill="none" stroke="#b866be" stroke-width="0.8"/>
<circle cx="78.6" cy="662.6" r="1.9" fill="none" stroke="#b866be" stroke-width="0.8"/>
<circle cx="85.8" cy="662.6" r="1.9" fill="none" stroke="#b866be" stroke-width="0.8"/>
<circle cx="93" cy="662.6" r="1.9" fill="none" stroke="#b866be" stroke-width="0.8"/>
<circle cx="100.2" cy="662.6" r="1.9" fill="none" stroke="#b866be" stroke-width="0.8"/>
<circle cx="107.4" cy="662.6" r="1.9" fill="none" stroke="#b866be" stroke-width="0.8"/>
<circle cx="114.6" cy="662.6" r="1.9" fill="none" stroke="#b866be" stroke-width="0.8"/>
<circle cx="121.8" cy="662.6" r="1.9" fill="none" stroke="#b866be" stroke-width="0.8"/>
<circle cx="129" cy="662.6" r="1.9" fill="none" stroke="#b866be" stroke-width="0.8"/>
<circle cx="60.6" cy="666.2" r="1.9" fill="none" stroke="#b866be" stroke-width="0.8"/>
<circle cx="67.8" cy="666.2" r="1.9" fill="none" stroke="#b866be" stroke-width="0.8"/>
<circle cx="75" cy="666.2" r="1.9" fill="none" stroke="#b866be" stroke-width="0.8"/>
<circle cx="82.2" cy="666.2" r="1.9" fill="none" stroke="#b866be" stroke-width="0.8"/>
<circle cx="89.4" cy="666.2" r="1.9" fill="none" stroke="#b866be" stroke-width="0.8"/>
<circle cx="96.6" cy="666.2" r="1.9" fill="none" stroke="#b866be" stroke-width="0.8"/>
<circle cx="103.8" cy="666.2" r="1.9" fill="none" stroke="#b866be" stroke-width="0.8"/>
<circle cx="111" cy="666.2" r="1.9" fill="none" stroke="#b866be" stroke-width="0.8"/>
<circle cx="118.2" cy="666.2" r="1.9" fill="none" stroke="#b866be" stroke-width="0.8"/>
<circle cx="125.4" cy="666.2" r="1.9" fill="none" stroke="#b866be" stroke-width="0.8"/>
<circle cx="132.6" cy="666.2" r="1.9" fill="none" stroke="#b866be" stroke-width="0.8"/>
<circle cx="57" cy="669.8" r="1.9" fill="none" stroke="#b866be" stroke-width="0.8"/>
<circle cx="64.2" cy="669.8" r="1.9" fill="none" stroke="#b866be" stroke-width="0.8"/>
<circle cx="71.4" cy="669.8" r="1.9" fill="none" stroke="#b866be" stroke-width="0.8"/>
<circle cx="78.6" cy="669.8" r="1.9" fill="none" stroke="#b866be" stroke-width="0.8"/>
<circle cx="85.8" cy="669.8" r="1.9" fill="none" stroke="#b866be" stroke-width="0.8"/>
<circle cx="93" cy="669.8" r="1.9" fill="none" stroke="#b866be" stroke-width="0.8"/>
<circle cx="100.2" cy="669.8" r="1.9" fill="none" stroke="#b866be" stroke-width="0.8"/>
<circle cx="107.4" cy="669.8" r="1.9" fill="none" stroke="#b866be" stroke-width="0.8"/>
<circle cx="114.6" cy="669.8" r="1.9" fill="none" stroke="#b866be" stroke-width="0.8"/>
<circle cx="121.8" cy="669.8" r="1.9" fill="none" stroke="#b866be" stroke-width="0.8"/>
<circle cx="129" cy="669.8" r="1.9" fill="none" stroke="#b866be" stroke-width="0.8"/>
<circle cx="60.6" cy="673.4" r="1.9" fill="none" stroke="#b866be" stroke-width="0.8"/>
<circle cx="67.8" cy="673.4" r="1.9" fill="none" stroke="#b866be" stroke-width="0.8"/>
<circle cx="75" cy="673.4" r="1.9" fill="none" stroke="#b866be" stroke-width="0.8"/>
<circle cx="82.2" cy="673.4" r="1.9" fill="none" stroke="#b866be" stroke-width="0.8"/>
<circle cx="89.4" cy="673.4" r="1.9" fill="none" stroke="#b866be" stroke-width="0.8"/>
<circle cx="96.6" cy="673.4" r="1.9" fill="none" stroke="#b866be" stroke-width="0.8"/>
<circle cx="103.8" cy="673.4" r="1.9" fill="none" stroke="#b866be" stroke-width="0.8"/>
<circle cx="111" cy="673.4" r="1.9" fill="none" stroke="#b866be" stroke-width="0.8"/>
<circle cx="118.2" cy="673.4" r="1.9" fill="none" stroke="#b866be" stroke-width="0.8"/>
<circle cx="125.4" cy="673.4" r="1.9" fill="none" stroke="#b866be" stroke-width="0.8"/>
<circle cx="132.6" cy="673.4" r="1.9" fill="none" stroke="#b866be" stroke-width="0.8"/>
<circle cx="57" cy="677" r="1.9" fill="none" stroke="#b866be" stroke-width="0.8"/>
<circle cx="64.2" cy="677" r="1.9" fill="none" stroke="#b866be" stroke-width="0.8"/>
<circle cx="71.4" cy="677" r="1.9" fill="none" stroke="#b866be" stroke-width="0.8"/>
<circle cx="78.6" cy="677" r="1.9" fill="none" stroke="#b866be" stroke-width="0.8"/>
<circle cx="85.8" cy="677" r="1.9" fill="none" stroke="#b866be" stroke-width="0.8"/>
<circle cx="93" cy="677" r="1.9" fill="none" stroke="#b866be" stroke-width="0.8"/>
<circle cx="100.2" cy="677" r="1.9" fill="none" stroke="#b866be" stroke-width="0.8"/>
<circle cx="107.4" cy="677" r="1.9" fill="none" stroke="#b866be" stroke-width="0.8"/>
<circle cx="114.6" cy="677" r="1.9" fill="none" stroke="#b866be" stroke-width="0.8"/>
<circle cx="121.8" cy="677" r="1.9" fill="none" stroke="#b866be" stroke-width="0.8"/>
<circle cx="129" cy="677" r="1.9" fill="none" stroke="#b866be" stroke-width="0.8"/>
<circle cx="60.6" cy="680.6" r="1.9" fill="none" stroke="#b866be" stroke-width="0.8"/>
<circle cx="67.8" cy="680.6" r="1.9" fill="none" stroke="#b866be" stroke-width="0.8"/>
<circle cx="75" cy="680.6" r="1.9" fill="none" stroke="#b866be" stroke-width="0.8"/>
<circle cx="82.2" cy="680.6" r="1.9" fill="none" stroke="#b866be" stroke-width="0.8"/>
<circle cx="89.4" cy="680.6" r="1.9" fill="none" stroke="#b866be" stroke-width="0.8"/>
<circle cx="96.6" cy="680.6" r="1.9" fill="none" stroke="#b866be" stroke-width="0.8"/>
<circle cx="103.8" cy="680.6" r="1.9" fill="none" stroke="#b866be" stroke-width="0.8"/>
<circle cx="111" cy="680.6" r="1.9" fill="none" stroke="#b866be" stroke-width="0.8"/>
<circle cx="118.2" cy="680.6" r="1.9" fill="none" stroke="#b866be" stroke-width="0.8"/>
<circle cx="125.4" cy="680.6" r="1.9" fill="none" stroke="#b866be" stroke-width="0.8"/>
<circle cx="132.6" cy="680.6" r="1.9" fill="none" stroke="#b866be" stroke-width="0.8"/>
<circle cx="57" cy="684.2" r="1.9" fill="none" stroke="#b866be" stroke-width="0.8"/>
<circle cx="64.2" cy="684.2" r="1.9" fill="none" stroke="#b866be" stroke-width="0.8"/>
<circle cx="71.4" cy="684.2" r="1.9" fill="none" stroke="#b866be" stroke-width="0.8"/>
<circle cx="78.6" cy="684.2" r="1.9" fill="none" stroke="#b866be" stroke-width="0.8"/>
<circle cx="85.8" cy="684.2" r="1.9" fill="none" stroke="#b866be" stroke-width="0.8"/>
<circle cx="93" cy="684.2" r="1.9" fill="none" stroke="#b866be" stroke-width="0.8"/>
<circle cx="100.2" cy="684.2" r="1.9" fill="none" stroke="#b866be" stroke-width="0.8"/>
<circle cx="107.4" cy="684.2" r="1.9" fill="none" stroke="#b866be" stroke-width="0.8"/>
<circle cx="114.6" cy="684.2" r="1.9" fill="none" stroke="#b866be" stroke-width="0.8"/>
<circle cx="121.8" cy="684.2" r="1.9" fill="none" stroke="#b866be" stroke-width="0.8"/>
<circle cx="129" cy="684.2" r="1.9" fill="none" stroke="#b866be" stroke-width="0.8"/>
<circle cx="60.6" cy="687.8" r="1.9" fill="none" stroke="#b866be" stroke-width="0.8"/>
<circle cx="67.8" cy="687.8" r="1.9" fill="none" stroke="#b866be" stroke-width="0.8"/>
<circle cx="75" cy="687.8" r="1.9" fill="none" stroke="#b866be" stroke-width="0.8"/>
<circle cx="82.2" cy="687.8" r="1.9" fill="none" stroke="#b866be" stroke-width="0.8"/>
<circle cx="89.4" cy="687.8" r="1.9" fill="none" stroke="#b866be" stroke-width="0.8"/>
<circle cx="96.6" cy="687.8" r="1.9" fill="none" stroke="#b866be" stroke-width="0.8"/>
<circle cx="103.8" cy="687.8" r="1.9" fill="none" stroke="#b866be" stroke-width="0.8"/>
<circle cx="111" cy="687.8" r="1.9" fill="none" stroke="#b866be" stroke-width="0.8"/>
<circle cx="118.2" cy="687.8" r="1.9" fill="none" stroke="#b866be" stroke-width="0.8"/>
<circle cx="125.4" cy="687.8" r="1.9" fill="none" stroke="#b866be" stroke-width="0.8"/>
<circle cx="132.6" cy="687.8" r="1.9" fill="none" stroke="#b866be" stroke-width="0.8"/>
<circle cx="57" cy="691.4" r="1.9" fill="none" stroke="#b866be" stroke-width="0.8"/>
<circle cx="64.2" cy="691.4" r="1.9" fill="none" stroke="#b866be" stroke-width="0.8"/>
<circle cx="71.4" cy="691.4" r="1.9" fill="none" stroke="#b866be" stroke-width="0.8"/>
<circle cx="78.6" cy="691.4" r="1.9" fill="none" stroke="#b866be" stroke-width="0.8"/>
<circle cx="85.8" cy="691.4" r="1.9" fill="none" stroke="#b866be" stroke-width="0.8"/>
<circle cx="93" cy="691.4" r="1.9" fill="none" stroke="#b866be" stroke-width="0.8"/>
<circle cx="100.2" cy="691.4" r="1.9" fill="none" stroke="#b866be" stroke-width="0.8"/>
<circle cx="107.4" cy="691.4" r="1.9" fill="none" stroke="#b866be" stroke-width="0.8"/>
<circle cx="114.6" cy="691.4" r="1.9" fill="none" stroke="#b866be" stroke-width="0.8"/>
<circle cx="121.8" cy="691.4" r="1.9" fill="none" stroke="#b866be" stroke-width="0.8"/>
<circle cx="129" cy="691.4" r="1.9" fill="none" stroke="#b866be" stroke-width="0.8"/>
<circle cx="60.6" cy="695" r="1.9" fill="none" stroke="#b866be" stroke-width="0.8"/>
<circle cx="67.8" cy="695" r="1.9" fill="none" stroke="#b866be" stroke-width="0.8"/>
<circle cx="75" cy="695" r="1.9" fill="none" stroke="#b866be" stroke-width="0.8"/>
<circle cx="82.2" cy="695" r="1.9" fill="none" stroke="#b866be" stroke-width="0.8"/>
<circle cx="89.4" cy="695" r="1.9" fill="none" stroke="#b866be" stroke-width="0.8"/>
<circle cx="96.6" cy="695" r="1.9" fill="none" stroke="#b866be" stroke-width="0.8"/>
<circle cx="103.8" cy="695" r="1.9" fill="none" stroke="#b866be" stroke-width="0.8"/>
<circle cx="111" cy="695" r="1.9" fill="none" stroke="#b866be" stroke-width="0.8"/>
<circle cx="118.2" cy="695" r="1.9" fill="none" stroke="#b866be" stroke-width="0.8"/>
<circle cx="125.4" cy="695" r="1.9" fill="none" stroke="#b866be" stroke-width="0.8"/>
<circle cx="132.6" cy="695" r="1.9" fill="none" stroke="#b866be" stroke-width="0.8"/>
<circle cx="57" cy="698.6" r="1.9" fill="none" stroke="#b866be" stroke-width="0.8"/>
<circle cx="64.2" cy="698.6" r="1.9" fill="none" stroke="#b866be" stroke-width="0.8"/>
<circle cx="71.4" cy="698.6" r="1.9" fill="none" stroke="#b866be" stroke-width="0.8"/>
<circle cx="78.6" cy="698.6" r="1.9" fill="none" stroke="#b866be" stroke-width="0.8"/>
<circle cx="85.8" cy="698.6" r="1.9" fill="none" stroke="#b866be" stroke-width="0.8"/>
<circle cx="93" cy="698.6" r="1.9" fill="none" stroke="#b866be" stroke-width="0.8"/>
<circle cx="100.2" cy="698.6" r="1.9" fill="none" stroke="#b866be" stroke-width="0.8"/>
<circle cx="107.4" cy="698.6" r="1.9" fill="none" stroke="#b866be" stroke-width="0.8"/>
<circle cx="114.6" cy="698.6" r="1.9" fill="none" stroke="#b866be" stroke-width="0.8"/>
<circle cx="121.8" cy="698.6" r="1.9" fill="none" stroke="#b866be" stroke-width="0.8"/>
<circle cx="129" cy="698.6" r="1.9" fill="none" stroke="#b866be" stroke-width="0.8"/>
<circle cx="60.6" cy="702.2" r="1.9" fill="none" stroke="#b866be" stroke-width="0.8"/>
<circle cx="67.8" cy="702.2" r="1.9" fill="none" stroke="#b866be" stroke-width="0.8"/>
<circle cx="75" cy="702.2" r="1.9" fill="none" stroke="#b866be" stroke-width="0.8"/>
<circle cx="82.2" cy="702.2" r="1.9" fill="none" stroke="#b866be" stroke-width="0.8"/>
<circle cx="89.4" cy="702.2" r="1.9" fill="none" stroke="#b866be" stroke-width="0.8"/>
<circle cx="96.6" cy="702.2" r="1.9" fill="none" stroke="#b866be" stroke-width="0.8"/>
<circle cx="103.8" cy="702.2" r="1.9" fill="none" stroke="#b866be" stroke-width="0.8"/>
<circle cx="111" cy="702.2" r="1.9" fill="none" stroke="#b866be" stroke-width="0.8"/>
<circle cx="118.2" cy="702.2" r="1.9" fill="none" stroke="#b866be" stroke-width="0.8"/>
<circle cx="125.4" cy="702.2" r="1.9" fill="none" stroke="#b866be" stroke-width="0.8"/>
<circle cx="132.6" cy="702.2" r="1.9" fill="none" stroke="#b866be" stroke-width="0.8"/>
<circle cx="57" cy="705.8" r="1.9" fill="none" stroke="#b866be" stroke-width="0.8"/>
<circle cx="64.2" cy="705.8" r="1.9" fill="none" stroke="#b866be" stroke-width="0.8"/>
<circle cx="71.4" cy="705.8" r="1.9" fill="none" stroke="#b866be" stroke-width="0.8"/>
<circle cx="78.6" cy="705.8" r="1.9" fill="none" stroke="#b866be" stroke-width="0.8"/>
<circle cx="85.8" cy="705.8" r="1.9" fill="none" stroke="#b866be" stroke-width="0.8"/>
<circle cx="93" cy="705.8" r="1.9" fill="none" stroke="#b866be" stroke-width="0.8"/>
<circle cx="100.2" cy="705.8" r="1.9" fill="none" stroke="#b866be" stroke-width="0.8"/>
<circle cx="107.4" cy="705.8" r="1.9" fill="none" stroke="#b866be" stroke-width="0.8"/>
<circle cx="114.6" cy="705.8" r="1.9" fill="none" stroke="#b866be" stroke-width="0.8"/>
<circle cx="121.8" cy="705.8" r="1.9" fill="none" stroke="#b866be" stroke-width="0.8"/>
<circle cx="129" cy="705.8" r="1.9" fill="none" stroke="#b866be" stroke-width="0.8"/>
<circle cx="60.6" cy="709.4" r="1.9" fill="none" stroke="#b866be" stroke-width="0.8"/>
<circle cx="67.8" cy="709.4" r="1.9" fill="none" stroke="#b866be" stroke-width="0.8"/>
<circle cx="75" cy="709.4" r="1.9" fill="none" stroke="#b866be" stroke-width="0.8"/>
<circle cx="82.2" cy="709.4" r="1.9" fill="none" stroke="#b866be" stroke-width="0.8"/>
<circle cx="89.4" cy="709.4" r="1.9" fill="none" stroke="#b866be" stroke-width="0.8"/>
<circle cx="96.6" cy="709.4" r="1.9" fill="none" stroke="#b866be" stroke-width="0.8"/>
<circle cx="103.8" cy="709.4" r="1.9" fill="none" stroke="#b866be" stroke-width="0.8"/>
<circle cx="111" cy="709.4" r="1.9" fill="none" stroke="#b866be" stroke-width="0.8"/>
<circle cx="118.2" cy="709.4" r="1.9" fill="none" stroke="#b866be" stroke-width="0.8"/>
<circle cx="125.4" cy="709.4" r="1.9" fill="none" stroke="#b866be" stroke-width="0.8"/>
<circle cx="132.6" cy="709.4" r="1.9" fill="none" stroke="#b866be" stroke-width="0.8"/>
<circle cx="57" cy="713" r="1.9" fill="none" stroke="#b866be" stroke-width="0.8"/>
<circle cx="64.2" cy="713" r="1.9" fill="none" stroke="#b866be" stroke-width="0.8"/>
<circle cx="71.4" cy="713" r="1.9" fill="none" stroke="#b866be" stroke-width="0.8"/>
<circle cx="78.6" cy="713" r="1.9" fill="none" stroke="#b866be" stroke-width="0.8"/>
<circle cx="85.8" cy="713" r="1.9" fill="none" stroke="#b866be" stroke-width="0.8"/>
<circle cx="93" cy="713" r="1.9" fill="none" stroke="#b866be" stroke-width="0.8"/>
<circle cx="100.2" cy="713" r="1.9" fill="none" stroke="#b866be" stroke-width="0.8"/>
<circle cx="107.4" cy="713" r="1.9" fill="none" stroke="#b866be" stroke-width="0.8"/>
<circle cx="114.6" cy="713" r="1.9" fill="none" stroke="#b866be" stroke-width="0.8"/>
<circle cx="121.8" cy="713" r="1.9" fill="none" stroke="#b866be" stroke-width="0.8"/>
<circle cx="129" cy="713" r="1.9" fill="none" stroke="#b866be" stroke-width="0.8"/>
<circle cx="60.6" cy="716.6" r="1.9" fill="none" stroke="#b866be" stroke-width="0.8"/>
<circle cx="67.8" cy="716.6" r="1.9" fill="none" stroke="#b866be" stroke-width="0.8"/>
<circle cx="75" cy="716.6" r="1.9" fill="none" stroke="#b866be" stroke-width="0.8"/>
<circle cx="82.2" cy="716.6" r="1.9" fill="none" stroke="#b866be" stroke-width="0.8"/>
<circle cx="89.4" cy="716.6" r="1.9" fill="none" stroke="#b866be" stroke-width="0.8"/>
<circle cx="96.6" cy="716.6" r="1.9" fill="none" stroke="#b866be" stroke-width="0.8"/>
<circle cx="103.8" cy="716.6" r="1.9" fill="none" stroke="#b866be" stroke-width="0.8"/>
<circle cx="111" cy="716.6" r="1.9" fill="none" stroke="#b866be" stroke-width="0.8"/>
<circle cx="118.2" cy="716.6" r="1.9" fill="none" stroke="#b866be" stroke-width="0.8"/>
<circle cx="125.4" cy="716.6" r="1.9" fill="none" stroke="#b866be" stroke-width="0.8"/>
<circle cx="132.6" cy="716.6" r="1.9" fill="none" stroke="#b866be" stroke-width="0.8"/>
<circle cx="57" cy="720.2" r="1.9" fill="none" stroke="#b866be" stroke-width="0.8"/>
<circle cx="64.2" cy="720.2" r="1.9" fill="none" stroke="#b866be" stroke-width="0.8"/>
<circle cx="71.4" cy="720.2" r="1.9" fill="none" stroke="#b866be" stroke-width="0.8"/>
<circle cx="78.6" cy="720.2" r="1.9" fill="none" stroke="#b866be" stroke-width="0.8"/>
<circle cx="85.8" cy="720.2" r="1.9" fill="none" stroke="#b866be" stroke-width="0.8"/>
<circle cx="93" cy="720.2" r="1.9" fill="none" stroke="#b866be" stroke-width="0.8"/>
<circle cx="100.2" cy="720.2" r="1.9" fill="none" stroke="#b866be" stroke-width="0.8"/>
<circle cx="107.4" cy="720.2" r="1.9" fill="none" stroke="#b866be" stroke-width="0.8"/>
<circle cx="114.6" cy="720.2" r="1.9" fill="none" stroke="#b866be" stroke-width="0.8"/>
<circle cx="121.8" cy="720.2" r="1.9" fill="none" stroke="#b866be" stroke-width="0.8"/>
<circle cx="129" cy="720.2" r="1.9" fill="none" stroke="#b866be" stroke-width="0.8"/>
<circle cx="60.6" cy="723.8" r="1.9" fill="none" stroke="#b866be" stroke-width="0.8"/>
<circle cx="67.8" cy="723.8" r="1.9" fill="none" stroke="#b866be" stroke-width="0.8"/>
<circle cx="75" cy="723.8" r="1.9" fill="none" stroke="#b866be" stroke-width="0.8"/>
<circle cx="82.2" cy="723.8" r="1.9" fill="none" stroke="#b866be" stroke-width="0.8"/>
<circle cx="89.4" cy="723.8" r="1.9" fill="none" stroke="#b866be" stroke-width="0.8"/>
<circle cx="96.6" cy="723.8" r="1.9" fill="none" stroke="#b866be" stroke-width="0.8"/>
<circle cx="103.8" cy="723.8" r="1.9" fill="none" stroke="#b866be" stroke-width="0.8"/>
<circle cx="111" cy="723.8" r="1.9" fill="none" stroke="#b866be" stroke-width="0.8"/>
<circle cx="118.2" cy="723.8" r="1.9" fill="none" stroke="#b866be" stroke-width="0.8"/>
<circle cx="125.4" cy="723.8" r="1.9" fill="none" stroke="#b866be" stroke-width="0.8"/>
<circle cx="132.6" cy="723.8" r="1.9" fill="none" stroke="#b866be" stroke-width="0.8"/>
<circle cx="57" cy="727.4" r="1.9" fill="none" stroke="#b866be" stroke-width="0.8"/>
<circle cx="64.2" cy="727.4" r="1.9" fill="none" stroke="#b866be" stroke-width="0.8"/>
<circle cx="71.4" cy="727.4" r="1.9" fill="none" stroke="#b866be" stroke-width="0.8"/>
<circle cx="78.6" cy="727.4" r="1.9" fill="none" stroke="#b866be" stroke-width="0.8"/>
<circle cx="85.8" cy="727.4" r="1.9" fill="none" stroke="#b866be" stroke-width="0.8"/>
<circle cx="93" cy="727.4" r="1.9" fill="none" stroke="#b866be" stroke-width="0.8"/>
<circle cx="100.2" cy="727.4" r="1.9" fill="none" stroke="#b866be" stroke-width="0.8"/>
<circle cx="107.4" cy="727.4" r="1.9" fill="none" stroke="#b866be" stroke-width="0.8"/>
<circle cx="114.6" cy="727.4" r="1.9" fill="none" stroke="#b866be" stroke-width="0.8"/>
<circle cx="121.8" cy="727.4" r="1.9" fill="none" stroke="#b866be" stroke-width="0.8"/>
<circle cx="129" cy="727.4" r="1.9" fill="none" stroke="#b866be" stroke-width="0.8"/>
<circle cx="60.6" cy="731" r="1.9" fill="none" stroke="#b866be" stroke-width="0.8"/>
<circle cx="67.8" cy="731" r="1.9" fill="none" stroke="#b866be" stroke-width="0.8"/>
<circle cx="75" cy="731" r="1.9" fill="none" stroke="#b866be" stroke-width="0.8"/>
<circle cx="82.2" cy="731" r="1.9" fill="none" stroke="#b866be" stroke-width="0.8"/>
<circle cx="89.4" cy="731" r="1.9" fill="none" stroke="#b866be" stroke-width="0.8"/>
<circle cx="96.6" cy="731" r="1.9" fill="none" stroke="#b866be" stroke-width="0.8"/>
<circle cx="103.8" cy="731" r="1.9" fill="none" stroke="#b866be" stroke-width="0.8"/>
<circle cx="111" cy="731" r="1.9" fill="none" stroke="#b866be" stroke-width="0.8"/>
<circle cx="118.2" cy="731" r="1.9" fill="none" stroke="#b866be" stroke-width="0.8"/>
<circle cx="125.4" cy="731" r="1.9" fill="none" stroke="#b866be" stroke-width="0.8"/>
<circle cx="132.6" cy="731" r="1.9" fill="none" stroke="#b866be" stroke-width="0.8"/>
<rect x="57" y="656" width="80" height="75" rx="7" fill="none" stroke="#a44aac" stroke-width="1.6"/>
<rect x="54" y="653" width="86" height="81" rx="9" fill="none" stroke="#a44aac" stroke-width="2.4" stroke-dasharray="3 4.4"/>
</g>
</svg>
<!--/IMAGES-->
<div class="box dk" style="left:14px;top:329px;width:165px;height:51px;">设计图形</div>
<div class="box dk" style="left:246px;top:329px;width:165px;height:50px;">数字化图形</div>
<div class="box dk" style="left:478px;top:329px;width:165px;height:51px;">像素化图形</div>
<div class="box md" style="left:29px;top:472px;width:132px;height:55px;">设计验证</div>
<div class="box dk" style="left:14px;top:738px;width:165px;height:51px;letter-spacing:-0.5px;padding-right:3px;box-sizing:border-box;">最终掩模图形</div>
<div class="box dk" style="left:245px;top:738px;width:165px;height:51px;">设计规则检查</div>
<div class="box dk" style="left:478px;top:738px;width:165px;height:51px;">像素化掩模</div>
<div class="box md" style="left:688px;top:450px;width:118px;height:52px;">图形梯度</div>
<div class="box md" style="left:690px;top:556px;width:119px;height:52px;">最优化器</div>
<div class="box dk" style="left:754px;top:852px;width:188px;height:46px;border-radius:10px;">自主IP核心算法</div>
<div class="box sq" style="left:945px;top:385px;width:159px;height:65px;"><span style="display:inline-block;transform:scaleX(0.96);margin-left:2px">硬件加速GPU</span></div>
<div class="box sq" style="left:945px;top:475px;width:159px;height:119px;"></div>
<div class="a wt" style="left:945px;top:493px;width:159px;text-align:center;font-size:24px;line-height:32px;">约束条件</div>
<div class="a bl" style="left:984px;top:533.5px;"></div>
<div class="a bl" style="left:984px;top:558.3px;"></div>
<div class="a wt" style="left:1009px;top:525px;font-size:19.5px;line-height:28px;">对称性</div>
<div class="a wt" style="left:1008.5px;top:547px;font-size:19px;line-height:28px;">…</div>
<div class="box sq" style="left:945px;top:620px;width:159px;height:146px;"></div>
<div class="a wt" style="left:943px;top:639.5px;width:159px;text-align:center;font-size:24px;line-height:32px;">目标函数</div>
<div class="a bl" style="left:964px;top:678px;"></div>
<div class="a bl" style="left:964px;top:704px;"></div>
<div class="a bl" style="left:964px;top:731.2px;"></div>
<div class="a wt lat" style="left:983.7px;top:673px;font-size:20px;line-height:24px;transform:scaleX(0.893);">EPE, FEM</div>
<div class="a wt lat" style="left:983px;top:699px;font-size:20px;line-height:24px;transform:scaleX(0.945);">MEEF, NILS</div>
<div class="a wt" style="left:982.7px;top:721.5px;font-size:19px;line-height:24px;">…</div>


<div class="a" id="slogan" style="left:232px;top:1070px;font-size:23.6px;font-weight:700;color:#1d2a8c;line-height:36px;white-space:nowrap;">成为集成电路领域良率管理领导者！</div>
<!--MOUNTAIN-->
<svg class="a" style="left:0;top:980px" width="1118" height="303" viewBox="0 980 1118 303">
<defs>
<filter id="snL" x="0" y="0" width="100%" height="100%" color-interpolation-filters="sRGB">
<feGaussianBlur in="SourceGraphic" stdDeviation="1.1" result="b"/>
<feTurbulence type="fractalNoise" baseFrequency="0.13 0.2" numOctaves="3" seed="5" result="t"/>
<feColorMatrix in="t" type="matrix" values="1 0 0 0 0  1 0 0 0 0  1 0 0 0 0  0 0 0 0 1" result="n"/>
<feComposite in="b" in2="n" operator="arithmetic" k1="0" k2="1" k3="1.3" k4="-0.65" result="s"/>
<feColorMatrix in="s" type="matrix" values="1 0 0 0 0.000  0 1 0 0 0.000  0 0 1 0 0.000  0 0 0 0 1"/>
</filter>
<filter id="snR" x="0" y="0" width="100%" height="100%" color-interpolation-filters="sRGB">
<feGaussianBlur in="SourceGraphic" stdDeviation="1.3" result="b"/>
<feTurbulence type="fractalNoise" baseFrequency="0.07 0.14" numOctaves="3" seed="9" result="t"/>
<feColorMatrix in="t" type="matrix" values="1 0 0 0 0  1 0 0 0 0  1 0 0 0 0  0 0 0 0 1" result="n"/>
<feComposite in="b" in2="n" operator="arithmetic" k1="0" k2="1" k3="0.35" k4="-0.175" result="s"/>
<feColorMatrix in="s" type="matrix" values="0.9 0 0 0 0.100  0 1 0 0 0.000  0 0 1 0 0.000  0 0 0 0 1"/>
</filter>
<linearGradient id="flg" x1="0" y1="0" x2="1" y2="1"><stop offset="0" stop-color="#ec0a02"/><stop offset="1" stop-color="#f03a2a"/></linearGradient>
<clipPath id="cl"><polygon points="14,1283 27,1275 40,1271 78,1269.5 88.5,1261.5 107,1256 126,1252 150,1238.7 172,1228 196,1218.5 209,1217 217,1220 225,1222.6 236,1220 239,1210.5 247,1200 258,1191.7 271,1186 284,1186 298,1183.7 311.7,1177 330.5,1167.6 349,1158 370.7,1151.5 392,1148.8 408,1154 417.7,1165 421.7,1179.6 435,1189 448.5,1205 459,1224 467,1242.7 478,1266.8 481,1283"/></clipPath>
<clipPath id="cv"><polygon points="448.5,1205 483.4,1200 486,1189 497,1187.7 515.6,1198 529,1199.8 551.5,1208 565,1198.7 583.7,1190.6 602.4,1178.5 624,1167.8 650.7,1146.3 672,1141 691,1130 707,1127.6 726,1116.8 742,1104.8 752.7,1100.7 768.8,1104.8 787.6,1106 806.4,1100.7 817,1098 839.5,1103.4 866.3,1119.5 887.8,1135.6 909.2,1154.4 933.4,1173.2 963,1189.3 1000.4,1200 1022,1209.4 1040.7,1224 1059.5,1243 1075.6,1261.7 1086.3,1277.8 1092,1283 440,1283"/></clipPath>
</defs>
<g clip-path="url(#cv)"><g filter="url(#snR)">
<rect x="430" y="1090" width="680" height="200" fill="#f4f4f4"/>
<polygon points="556,1210 584.5,1193 613,1170 634.6,1152 659.6,1141.5 690,1130 712,1126 705,1150 670,1182 631,1196 600,1206" fill="#c3c3c3"/>
<polygon points="598,1183 625,1165 650,1154 655,1162 630,1178 605,1188" fill="#969696"/>
<polygon points="570,1203 600,1190 610,1195 580,1207" fill="#a5a5a5"/>
<polygon points="577.3,1223.8 595,1211 636.4,1207.7 618.5,1225.5 595,1227.3" fill="#afafaf"/>
<polygon points="482.5,1204 486,1189.8 502,1191.6 518.3,1198.7 532.6,1220 534.4,1236 509,1240 489.7,1225.5" fill="#afafaf"/>
<polygon points="532.6,1206 567.5,1231 563,1241.6 523.7,1241.6" fill="#c3c3c3"/>
<polygon points="466,1250 520,1262 565,1276 575,1283 466,1283" fill="#7d7d7d"/>
<polygon points="560,1245 700,1240 700,1283 560,1283" fill="#dedede"/>
<polygon points="722,1112 750,1101 820,1099 835,1120 800,1140 745,1142 722,1132" fill="#e2e2e2"/>
<polygon points="687,1152 719,1152 717,1184 690,1184" fill="#8c8c8c"/>
<polygon points="660,1143 690,1138 690,1170 660,1175" fill="#aaaaaa"/>
<polygon points="780,1127 803,1130 805,1140 782,1138" fill="#b9b9b9"/>
<polygon points="799,1143 821,1150 821,1158 800,1155" fill="#afafaf"/>
<polygon points="735,1150 790,1145 800,1175 740,1185" fill="#e4e4e4"/>
<polygon points="700,1190 790,1190 795,1283 700,1283" fill="#dedede"/>
<polygon points="873,1154 880,1150 915,1196 950,1226 940,1232 905,1204" fill="#afafaf"/>
<polygon points="943,1206 990,1203 1013,1212 1000,1221 960,1221" fill="#c8c8c8"/>
<polygon points="850,1200 950,1240 1060,1283 850,1283" fill="#d7d7d7"/>
<polygon points="701,1194.5 714,1196 725.4,1212 722,1233 725.4,1257 715.8,1260.5 703,1257 701,1241 696.4,1228" fill="#878787"/>
<polygon points="727,1217 743,1228 757.6,1247.6 783.4,1249 762.5,1259 746,1255.7 732,1244.4" fill="#555555"/>
<polygon points="722,1263 745,1265 760,1283 725,1283" fill="#5f5f5f"/>
<polygon points="708,1215 716,1218 714,1240 706,1238" fill="#646464"/>
<path d="M735,1188 L771,1166.6" fill="none" stroke="#9b9b9b" stroke-width="2.5" stroke-linecap="round" stroke-linejoin="round"/>
<path d="M947.7,1207.4 C952.2,1208.3 964.5,1211.5 975,1213 C985.5,1214.5 1004.6,1216.1 1010.5,1216.7" fill="none" stroke="#6e6e6e" stroke-width="6" stroke-linecap="round" stroke-linejoin="round"/>
<path d="M943,1242 C950.8,1244.0 975.5,1249.3 989.5,1254 C1003.5,1258.7 1017.0,1265.2 1026.7,1270 C1036.4,1274.8 1044.2,1280.8 1047.7,1283" fill="none" stroke="#696969" stroke-width="9" stroke-linecap="round" stroke-linejoin="round"/>
<path d="M850,1228.4 C853.3,1228.2 860.7,1226.2 870,1227 C879.3,1227.8 899.8,1232.0 905.8,1233" fill="none" stroke="#787878" stroke-width="4" stroke-linecap="round" stroke-linejoin="round"/>
<path d="M850,1244.7 C853.3,1243.6 862.2,1237.2 870,1238 C877.8,1238.8 892.1,1247.4 896.5,1249.3" fill="none" stroke="#787878" stroke-width="4" stroke-linecap="round" stroke-linejoin="round"/>
<path d="M1012.8,1207.4 L1033.7,1216.7" fill="none" stroke="#696969" stroke-width="3" stroke-linecap="round" stroke-linejoin="round"/>
<path d="M1012.8,1251.6 C1016.5,1252.7 1027.2,1255.7 1035,1258 C1042.8,1260.3 1055.2,1264.3 1059.3,1265.6" fill="none" stroke="#737373" stroke-width="3" stroke-linecap="round" stroke-linejoin="round"/>
<path d="M575,1200 C585.8,1193.7 619.2,1173.2 640,1162 C660.8,1150.8 690.0,1137.8 700,1133" fill="none" stroke="#878787" stroke-width="3" stroke-linecap="round" stroke-linejoin="round"/>
<path d="M590,1212 C601.7,1206.7 639.2,1190.3 660,1180 C680.8,1169.7 705.8,1155.0 715,1150" fill="none" stroke="#919191" stroke-width="2.5" stroke-linecap="round" stroke-linejoin="round"/>
<path d="M880,1260 C884.2,1261.3 896.7,1266.3 905,1268 C913.3,1269.7 925.8,1269.7 930,1270" fill="none" stroke="#828282" stroke-width="3" stroke-linecap="round" stroke-linejoin="round"/>
<path d="M786.6,1263.7 C790.9,1262.4 803.8,1257.6 812.4,1255.7 C821.0,1253.8 833.7,1253.0 838,1252.5" fill="none" stroke="#646464" stroke-width="6" stroke-linecap="round" stroke-linejoin="round"/>
<path d="M762.5,1183 L773.7,1201" fill="none" stroke="#737373" stroke-width="3" stroke-linecap="round" stroke-linejoin="round"/>
<path d="M780,1199 L799.5,1193" fill="none" stroke="#878787" stroke-width="2" stroke-linecap="round" stroke-linejoin="round"/>
<path d="M815,1262 C819.2,1263.3 830.8,1267.8 840,1270 C849.2,1272.2 865.0,1274.2 870,1275" fill="none" stroke="#7d7d7d" stroke-width="3" stroke-linecap="round" stroke-linejoin="round"/>
</g></g>
<g clip-path="url(#cl)"><g filter="url(#snL)">
<rect x="0" y="1140" width="500" height="150" fill="#bcbcbc"/>
<polygon points="10,1270 150,1238 170,1283 10,1283" fill="#c3c3c3"/>
<polygon points="100,1258 130,1252 135,1266 105,1270" fill="#6e6e6e"/>
<polygon points="60,1275 90,1270 95,1283 55,1283" fill="#5a5a5a"/>
<polygon points="160,1236 190,1226 192,1283 160,1283" fill="#969696"/>
<polygon points="190,1222 240,1218 262,1230 262,1283 190,1283" fill="#808080"/>
<polygon points="172,1244 186,1244 186,1265 172,1265" fill="#c8c8c8"/>
<polygon points="237,1205 250,1190 288.5,1186 292,1200 262,1219 240,1217" fill="#505050"/>
<polygon points="256,1202 283,1200 286,1212 260,1214" fill="#d7d7d7"/>
<polygon points="265,1194 288,1192 290,1207 268,1207" fill="#bebebe"/>
<polygon points="297,1197 320,1195 336,1210 334,1229 300,1226" fill="#464646"/>
<polygon points="297,1183 340,1170 345,1192 300,1194" fill="#e1e1e1"/>
<polygon points="258,1232 300,1228 337,1232 360,1250 340,1269 270,1268" fill="#d2d2d2"/>
<polygon points="240,1270 340,1268 410,1270 430,1283 240,1283" fill="#787878"/>
<polygon points="330,1168 350,1158 392,1149 408,1154 418,1180 416,1220 349,1222 340,1190" fill="#e4e4e4"/>
<polygon points="320,1196 350,1196 352,1224 320,1224" fill="#5a5a5a"/>
<polygon points="320,1217 416,1224 416,1236 320,1230" fill="#505050"/>
<polygon points="320,1232 410,1236 410,1250 320,1250" fill="#cdcdcd"/>
<polygon points="320,1250 460,1250 460,1283 320,1283" fill="#8c8c8c"/>
<polygon points="415,1190 436,1190 449,1205 449,1224 415,1224" fill="#7d7d7d"/>
<polygon points="410,1175 422,1178 460,1228 478,1266 482,1283 458,1283 455,1262 412,1232" fill="#3c3c3c"/>
<polygon points="412,1233 452,1233 457,1259 416,1259" fill="#7d7d7d"/>
<path d="M357,1164 C361.7,1163.5 376.2,1161.5 385,1161 C393.8,1160.5 405.8,1161.0 410,1161" fill="none" stroke="#464646" stroke-width="3.5" stroke-linecap="round"/>
<path d="M349,1175 C354.2,1174.5 369.8,1172.7 380,1172 C390.2,1171.3 405.0,1170.8 410,1170.6" fill="none" stroke="#464646" stroke-width="3.5" stroke-linecap="round"/>
<path d="M336,1188 C340.8,1187.7 355.6,1186.2 365,1186 C374.4,1185.8 387.9,1186.6 392.5,1186.7" fill="none" stroke="#505050" stroke-width="3" stroke-linecap="round"/>
<path d="M360,1200 C365.0,1200.5 382.5,1201.3 390,1203 C397.5,1204.7 402.5,1208.8 405,1210" fill="none" stroke="#505050" stroke-width="3" stroke-linecap="round"/>
<path d="M270,1245 C275.0,1244.2 290.0,1240.0 300,1240 C310.0,1240.0 325.0,1244.2 330,1245" fill="none" stroke="#5a5a5a" stroke-width="3" stroke-linecap="round"/>
<path d="M200,1240 C205.0,1241.7 220.8,1245.8 230,1250 C239.2,1254.2 250.8,1262.5 255,1265" fill="none" stroke="#505050" stroke-width="3" stroke-linecap="round"/>
<path d="M30,1278 L60,1274" fill="none" stroke="#5a5a5a" stroke-width="2.5" stroke-linecap="round"/>
</g></g>
<line x1="799.5" y1="997" x2="815.5" y2="1096" stroke="#e8b08e" stroke-width="3"/>
<circle cx="799.2" cy="995.8" r="3.6" fill="#e8b08e"/>
<path d="M803.5,1005.5 C818,1004 835,1004 850,1007 C866,1010 880,1010 898.7,1002.8 L906.8,1053 C895,1062 882,1064 868,1061 C852,1058 840,1052 828,1052 C820,1052 815,1055 811.5,1057.8 Z" fill="url(#flg)"/>
</svg>
<!--/MOUNTAIN-->
</body></html>
